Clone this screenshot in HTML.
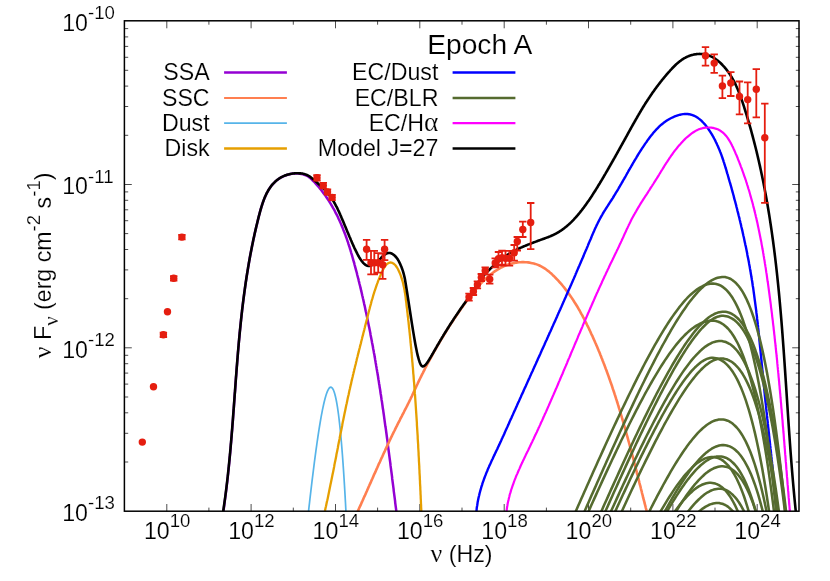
<!DOCTYPE html>
<html><head><meta charset="utf-8"><title>Epoch A SED</title>
<style>html,body{margin:0;padding:0;background:#fff;overflow:hidden}body{width:830px;height:581px;position:relative;font-family:"Liberation Sans",sans-serif}</style></head>
<body>
<svg width="830" height="581" viewBox="0 0 830 581" style="position:absolute;left:0;top:0;will-change:transform">
<defs><clipPath id="c"><rect x="124.6" y="21.1" width="674.8" height="490.1"/></clipPath></defs>
<rect width="830" height="581" fill="#fff"/>
<path d="M166.8 511.2v-7.2M166.8 21.1v7.2M208.9 511.2v-3.6M208.9 21.1v3.6M251.1 511.2v-7.2M251.1 21.1v7.2M293.3 511.2v-3.6M293.3 21.1v3.6M335.5 511.2v-7.2M335.5 21.1v7.2M377.6 511.2v-3.6M377.6 21.1v3.6M419.8 511.2v-7.2M419.8 21.1v7.2M462 511.2v-3.6M462 21.1v3.6M504.2 511.2v-7.2M504.2 21.1v7.2M546.4 511.2v-3.6M546.4 21.1v3.6M588.5 511.2v-7.2M588.5 21.1v7.2M630.7 511.2v-3.6M630.7 21.1v3.6M672.9 511.2v-7.2M672.9 21.1v7.2M715 511.2v-3.6M715 21.1v3.6M757.2 511.2v-7.2M757.2 21.1v7.2M124.6 462h3.6M799.4 462h-3.6M124.6 433.3h3.6M799.4 433.3h-3.6M124.6 412.8h3.6M799.4 412.8h-3.6M124.6 397h3.6M799.4 397h-3.6M124.6 384.1h3.6M799.4 384.1h-3.6M124.6 373.1h3.6M799.4 373.1h-3.6M124.6 363.7h3.6M799.4 363.7h-3.6M124.6 355.3h3.6M799.4 355.3h-3.6M124.6 347.8h7.2M799.4 347.8h-7.2M124.6 298.7h3.6M799.4 298.7h-3.6M124.6 269.9h3.6M799.4 269.9h-3.6M124.6 249.5h3.6M799.4 249.5h-3.6M124.6 233.6h3.6M799.4 233.6h-3.6M124.6 220.7h3.6M799.4 220.7h-3.6M124.6 209.8h3.6M799.4 209.8h-3.6M124.6 200.3h3.6M799.4 200.3h-3.6M124.6 191.9h3.6M799.4 191.9h-3.6M124.6 184.5h7.2M799.4 184.5h-7.2M124.6 135.3h3.6M799.4 135.3h-3.6M124.6 106.5h3.6M799.4 106.5h-3.6M124.6 86.1h3.6M799.4 86.1h-3.6M124.6 70.3h3.6M799.4 70.3h-3.6M124.6 57.3h3.6M799.4 57.3h-3.6M124.6 46.4h3.6M799.4 46.4h-3.6M124.6 36.9h3.6M799.4 36.9h-3.6M124.6 28.6h3.6M799.4 28.6h-3.6" stroke="#000" stroke-width="0.7" fill="none"/>
<g clip-path="url(#c)" fill="none" stroke-linejoin="round">
<path d="M221.2 525.1L221.5 523.6L221.7 522.1L222 520.6L222.2 519.1L222.4 517.5L222.7 516L222.9 514.5L223.1 513L223.4 511.5L223.6 510L223.8 508.5L224 507L224.2 505.5L224.4 503.9L224.6 502.4L224.8 500.9L225 499.4L225.2 497.9L225.4 496.4L225.6 494.9L225.8 493.4L226 491.9L226.2 490.4L226.4 488.9L226.6 487.4L226.7 485.9L226.9 484.4L227.1 482.9L227.3 481.4L227.4 479.9L227.6 478.4L227.8 476.9L227.9 475.4L228.1 473.9L228.2 472.4L228.4 470.9L228.6 469.4L228.7 467.9L228.9 466.4L229 464.9L229.2 463.4L229.3 461.9L229.5 460.4L229.6 458.9L229.7 457.4L229.9 455.9L230 454.4L230.2 452.9L230.3 451.4L230.4 449.9L230.6 448.4L230.7 446.9L230.8 445.4L230.9 443.9L231.1 442.4L231.2 441L231.3 439.5L231.4 438L231.6 436.5L231.7 435L231.8 433.5L231.9 432L232.1 430.5L232.2 429L232.3 427.5L232.4 426L232.5 424.6L232.6 423.1L232.8 421.6L232.9 420.1L233 418.6L233.1 417.1L233.2 415.6L233.3 414.1L233.4 412.7L233.5 411.2L233.6 409.7L233.8 408.2L233.9 406.7L234 405.2L234.1 403.7L234.2 402.3L234.3 400.8L234.4 399.3L234.5 397.8L234.6 396.3L234.7 394.8L234.8 393.3L235 391.9L235.1 390.4L235.2 388.9L235.3 387.4L235.4 385.9L235.5 384.4L235.6 382.9L235.7 381.5L235.8 380L235.9 378.5L236 377L236.2 375.5L236.3 374L236.4 372.6L236.5 371.1L236.6 369.6L236.7 368.1L236.8 366.6L237 365.1L237.1 363.7L237.2 362.2L237.3 360.7L237.4 359.2L237.6 357.7L237.7 356.2L237.8 354.8L237.9 353.3L238 351.8L238.2 350.3L238.3 348.8L238.4 347.3L238.6 345.9L238.7 344.4L238.8 342.9L238.9 341.4L239.1 339.9L239.2 338.4L239.4 337L239.5 335.5L239.6 334L239.8 332.5L239.9 331L240.1 329.5L240.2 328.1L240.4 326.6L240.5 325.1L240.7 323.6L240.8 322.1L241 320.6L241.1 319.1L241.3 317.7L241.5 316.2L241.6 314.7L241.8 313.2L242 311.7L242.1 310.2L242.3 308.7L242.5 307.3L242.7 305.8L242.8 304.3L243 302.8L243.2 301.3L243.4 299.8L243.6 298.3L243.8 296.8L244 295.4L244.2 293.9L244.4 292.4L244.6 290.9L244.8 289.4L245 287.9L245.2 286.4L245.4 284.9L245.6 283.4L245.8 282L246.1 280.5L246.3 279L246.5 277.5L246.7 276L247 274.5L247.2 273L247.5 271.5L247.7 270L248 268.5L248.2 267L248.5 265.5L248.7 264L249 262.6L249.2 261.1L249.5 259.6L249.8 258.1L250 256.6L250.3 255.1L250.6 253.6L250.9 252.1L251.2 250.6L251.5 249.1L251.8 247.6L252.1 246.1L252.4 244.6L252.7 243.1L253 241.6L253.3 240.1L253.6 238.6L254 237.1L254.3 235.6L254.6 234.1L254.9 232.6L255.3 231.1L255.6 229.6L256 228.1L256.3 226.6L256.7 225.1L257.1 223.6L257.4 222.1L257.8 220.5L258.2 219L258.5 217.5L258.9 216L259.3 214.5L259.7 213L260.1 211.5L260.5 210L261 208.5L261.4 207.1L261.9 205.6L262.3 204.1L262.8 202.7L263.3 201.3L263.8 199.9L264.4 198.5L265 197.1L265.6 195.7L266.2 194.4L266.8 193.1L267.5 191.8L268.2 190.6L268.9 189.4L269.7 188.2L270.5 187L271.3 185.9L272.2 184.8L273.1 183.8L274.1 182.8L275.1 181.8L276.1 180.9L277.2 180L278.3 179.2L279.4 178.4L280.7 177.7L281.9 177L283.2 176.4L284.6 175.8L286 175.3L287.5 174.8L289 174.4L290.5 174.1L292.1 173.8L293.7 173.6L295.2 173.5L296.8 173.5L298.4 173.6L299.9 173.7L301.5 174L303 174.3L304.4 174.8L305.8 175.3L307.2 176L308.5 176.8L309.7 177.6L310.8 178.6L311.9 179.7L313 180.8L314.1 181.8L315.1 183L316.1 184.1L317.1 185.2L318.1 186.3L319.1 187.5L320 188.6L321 189.8L321.9 191L322.8 192.2L323.7 193.4L324.6 194.6L325.5 195.8L326.3 197L327.1 198.2L328 199.5L328.8 200.7L329.6 202L330.3 203.2L331.1 204.5L331.9 205.8L332.6 207.1L333.3 208.4L334.1 209.7L334.8 211L335.4 212.3L336.1 213.6L336.8 214.9L337.5 216.3L338.1 217.6L338.7 219L339.4 220.3L340 221.7L340.6 223.1L341.2 224.4L341.7 225.8L342.3 227.2L342.9 228.6L343.4 230L344 231.4L344.5 232.8L345.1 234.2L345.6 235.6L346.1 237L346.6 238.4L347.1 239.8L347.6 241.3L348.1 242.7L348.5 244.1L349 245.6L349.5 247L349.9 248.5L350.4 249.9L350.8 251.3L351.2 252.8L351.7 254.3L352.1 255.7L352.5 257.2L352.9 258.6L353.3 260.1L353.7 261.5L354.2 263L354.5 264.5L354.9 265.9L355.3 267.4L355.7 268.9L356.1 270.3L356.5 271.8L356.9 273.3L357.2 274.7L357.6 276.2L358 277.7L358.4 279.1L358.7 280.6L359.1 282.1L359.4 283.5L359.8 285L360.2 286.5L360.5 287.9L360.9 289.4L361.2 290.9L361.6 292.4L361.9 293.8L362.2 295.3L362.6 296.8L362.9 298.2L363.3 299.7L363.6 301.2L363.9 302.6L364.2 304.1L364.6 305.6L364.9 307L365.2 308.5L365.5 310L365.8 311.5L366.2 312.9L366.5 314.4L366.8 315.9L367.1 317.3L367.4 318.8L367.7 320.3L368 321.7L368.3 323.2L368.6 324.7L368.9 326.2L369.2 327.6L369.5 329.1L369.8 330.6L370.1 332L370.4 333.5L370.6 335L370.9 336.5L371.2 337.9L371.5 339.4L371.8 340.9L372 342.4L372.3 343.8L372.6 345.3L372.9 346.8L373.1 348.2L373.4 349.7L373.7 351.2L373.9 352.7L374.2 354.1L374.5 355.6L374.7 357.1L375 358.6L375.2 360L375.5 361.5L375.7 363L376 364.5L376.2 365.9L376.5 367.4L376.7 368.9L377 370.4L377.2 371.8L377.5 373.3L377.7 374.8L378 376.3L378.2 377.7L378.4 379.2L378.7 380.7L378.9 382.2L379.1 383.7L379.4 385.1L379.6 386.6L379.8 388.1L380.1 389.6L380.3 391L380.5 392.5L380.7 394L381 395.5L381.2 397L381.4 398.4L381.6 399.9L381.9 401.4L382.1 402.9L382.3 404.4L382.5 405.8L382.7 407.3L382.9 408.8L383.2 410.3L383.4 411.8L383.6 413.2L383.8 414.7L384 416.2L384.2 417.7L384.4 419.2L384.6 420.6L384.8 422.1L385 423.6L385.2 425.1L385.4 426.6L385.7 428.1L385.9 429.5L386.1 431L386.3 432.5L386.5 434L386.7 435.5L386.9 437L387.1 438.5L387.3 439.9L387.5 441.4L387.7 442.9L387.8 444.4L388 445.9L388.2 447.4L388.4 448.9L388.6 450.3L388.8 451.8L389 453.3L389.2 454.8L389.4 456.3L389.6 457.8L389.8 459.3L390 460.8L390.2 462.3L390.4 463.7L390.5 465.2L390.7 466.7L390.9 468.2L391.1 469.7L391.3 471.2L391.5 472.7L391.7 474.2L391.9 475.7L392.1 477.2L392.2 478.7L392.4 480.1L392.6 481.6L392.8 483.1L393 484.6L393.2 486.1L393.4 487.6L393.6 489.1L393.7 490.6L393.9 492.1L394.1 493.6L394.3 495.1L394.5 496.6L394.7 498.1L394.9 499.6L395.1 501.1L395.2 502.6L395.4 504.1L395.6 505.6L395.8 507.1L396 508.6L396.2 510.1L396.4 511.6L396.6 513.1L396.8 514.6L396.9 516.1L397.1 517.6L397.3 519.1L397.5 520.6L397.7 522.1L397.9 523.6L398.1 525.1" stroke="#9400d3" stroke-width="2.5"/>
<path d="M351.9 523.9L352.6 522.6L353.2 521.2L353.8 519.9L354.4 518.5L355.1 517.2L355.7 515.8L356.3 514.4L356.9 513.1L357.6 511.7L358.2 510.4L358.8 509L359.4 507.6L360 506.3L360.7 504.9L361.3 503.5L361.9 502.1L362.5 500.8L363.1 499.4L363.7 498L364.3 496.7L365 495.3L365.6 493.9L366.2 492.5L366.8 491.2L367.4 489.8L368 488.4L368.6 487L369.2 485.7L369.8 484.3L370.5 482.9L371.1 481.5L371.7 480.1L372.3 478.8L372.9 477.4L373.5 476L374.1 474.6L374.7 473.3L375.4 471.9L376 470.5L376.6 469.1L377.2 467.8L377.8 466.4L378.4 465L379 463.6L379.7 462.3L380.3 460.9L380.9 459.5L381.5 458.2L382.2 456.8L382.8 455.4L383.4 454L384 452.7L384.7 451.3L385.3 449.9L385.9 448.6L386.6 447.2L387.2 445.9L387.8 444.5L388.5 443.1L389.1 441.8L389.7 440.4L390.4 439.1L391 437.7L391.7 436.4L392.3 435L393 433.7L393.6 432.3L394.3 431L395 429.6L395.6 428.3L396.3 426.9L397 425.6L397.6 424.3L398.3 422.9L399 421.6L399.7 420.3L400.3 418.9L401 417.6L401.7 416.3L402.4 414.9L403.1 413.6L403.8 412.3L404.4 411L405.1 409.6L405.8 408.3L406.5 407L407.2 405.7L407.8 404.3L408.5 403L409.2 401.7L409.8 400.3L410.5 399L411.1 397.6L411.8 396.3L412.4 394.9L413 393.5L413.7 392.2L414.3 390.8L414.9 389.5L415.6 388.1L416.2 386.7L416.8 385.3L417.5 384L418.1 382.6L418.8 381.2L419.4 379.9L420.1 378.5L420.8 377.2L421.4 375.8L422.1 374.4L422.8 373.1L423.5 371.7L424.2 370.4L424.8 369L425.5 367.7L426.2 366.4L426.9 365L427.6 363.7L428.3 362.4L429 361L429.8 359.7L430.5 358.4L431.2 357.1L431.9 355.8L432.6 354.5L433.3 353.2L434 351.9L434.8 350.6L435.5 349.3L436.2 348L437 346.7L437.7 345.4L438.4 344.2L439.2 342.9L439.9 341.6L440.7 340.3L441.4 339.1L442.2 337.8L443 336.5L443.7 335.3L444.5 334L445.3 332.7L446 331.5L446.8 330.2L447.6 329L448.4 327.7L449.2 326.4L450 325.2L450.8 323.9L451.6 322.7L452.5 321.4L453.3 320.2L454.1 318.9L454.9 317.7L455.8 316.4L456.6 315.2L457.5 313.9L458.3 312.7L459.2 311.4L460.1 310.2L460.9 308.9L461.8 307.7L462.7 306.4L463.6 305.2L464.5 303.9L465.4 302.7L466.3 301.4L467.3 300.1L468.2 298.9L469.1 297.6L470.1 296.4L471 295.2L472 293.9L473 292.7L473.9 291.5L474.9 290.3L475.9 289.1L477 287.9L478 286.7L479 285.6L480 284.4L481.1 283.3L482.2 282.2L483.2 281.1L484.3 280L485.4 279L486.5 278L487.7 276.9L488.8 276L489.9 275L491.1 274.1L492.3 273.2L493.5 272.3L494.7 271.4L495.9 270.6L497.2 269.8L498.4 269.1L499.7 268.3L501 267.6L502.3 267L503.6 266.4L504.9 265.8L506.3 265.3L507.6 264.8L509 264.3L510.4 263.9L511.8 263.5L513.3 263.2L514.7 262.9L516.2 262.6L517.6 262.4L519.1 262.3L520.6 262.2L522.1 262.1L523.6 262.1L525 262.2L526.5 262.3L528 262.4L529.5 262.6L530.9 262.9L532.4 263.2L533.8 263.5L535.2 263.9L536.6 264.4L538 264.9L539.4 265.5L540.7 266.2L542 266.9L543.3 267.6L544.6 268.4L545.9 269.3L547.1 270.2L548.3 271.1L549.5 272.1L550.6 273.1L551.8 274.1L552.9 275.2L554 276.2L555.1 277.3L556.2 278.5L557.3 279.6L558.3 280.7L559.3 281.8L560.4 283L561.4 284.2L562.3 285.3L563.3 286.5L564.3 287.7L565.2 288.9L566.1 290.1L567.1 291.3L568 292.5L568.8 293.7L569.7 294.9L570.6 296.2L571.4 297.4L572.3 298.7L573.1 299.9L573.9 301.2L574.7 302.5L575.5 303.7L576.3 305L577.1 306.3L577.9 307.6L578.6 308.9L579.4 310.2L580.1 311.5L580.8 312.8L581.5 314.1L582.3 315.4L583 316.8L583.7 318.1L584.4 319.4L585 320.8L585.7 322.1L586.4 323.4L587 324.8L587.7 326.1L588.4 327.5L589 328.8L589.6 330.2L590.3 331.5L590.9 332.9L591.5 334.3L592.2 335.6L592.8 337L593.4 338.4L594 339.7L594.6 341.1L595.2 342.5L595.8 343.8L596.4 345.2L597 346.6L597.6 348L598.2 349.4L598.7 350.7L599.3 352.1L599.9 353.5L600.4 354.9L601 356.3L601.5 357.7L602.1 359.1L602.6 360.5L603.2 361.9L603.7 363.3L604.3 364.7L604.8 366.1L605.3 367.5L605.8 368.9L606.4 370.3L606.9 371.7L607.4 373.1L607.9 374.5L608.4 375.9L608.9 377.3L609.4 378.7L609.9 380.2L610.4 381.6L610.9 383L611.4 384.4L611.9 385.8L612.4 387.3L612.8 388.7L613.3 390.1L613.8 391.5L614.3 393L614.7 394.4L615.2 395.8L615.7 397.3L616.1 398.7L616.6 400.1L617 401.5L617.5 403L617.9 404.4L618.4 405.9L618.8 407.3L619.2 408.7L619.7 410.2L620.1 411.6L620.6 413.1L621 414.5L621.4 415.9L621.8 417.4L622.3 418.8L622.7 420.3L623.1 421.7L623.5 423.2L623.9 424.6L624.4 426.1L624.8 427.5L625.2 428.9L625.6 430.4L626 431.8L626.4 433.3L626.8 434.8L627.2 436.2L627.6 437.7L628 439.1L628.4 440.6L628.8 442L629.2 443.5L629.6 444.9L630 446.4L630.4 447.8L630.8 449.3L631.2 450.7L631.5 452.2L631.9 453.7L632.3 455.1L632.7 456.6L633.1 458L633.5 459.5L633.8 460.9L634.2 462.4L634.6 463.9L635 465.3L635.3 466.8L635.7 468.2L636.1 469.7L636.5 471.1L636.8 472.6L637.2 474.1L637.6 475.5L638 477L638.3 478.4L638.7 479.9L639.1 481.3L639.4 482.8L639.8 484.3L640.2 485.7L640.6 487.2L640.9 488.6L641.3 490.1L641.7 491.5L642 493L642.4 494.5L642.8 495.9L643.1 497.4L643.5 498.8L643.9 500.3L644.3 501.7L644.6 503.2L645 504.6L645.4 506.1L645.7 507.5L646.1 509L646.5 510.4L646.8 511.9L647.2 513.3L647.6 514.8L648 516.2L648.3 517.7L648.7 519.1L649.1 520.6L649.5 522L649.8 523.5L650.2 524.9" stroke="#ff7f50" stroke-width="2.6"/>
<path d="M306.5 529.8L307 525.2L307.5 520.7L308 516.1L308.5 511.6L309 507.2L309.5 502.8L310 498.4L310.5 494.1L311 489.8L311.5 485.6L312 481.4L312.5 477.3L313 473.3L313.5 469.3L314 465.3L314.5 461.4L315 457.6L315.5 453.9L316 450.2L316.5 446.6L317 443L317.5 439.6L318 436.2L318.5 432.9L319 429.7L319.5 426.5L320 423.5L320.5 420.5L321 417.7L321.5 414.9L322 412.3L322.5 409.7L323 407.3L323.5 405L324 402.8L324.5 400.7L325 398.8L325.5 397L326 395.3L326.5 393.8L327 392.4L327.5 391.2L328 390.1L328.5 389.2L329 388.4L329.5 387.8L330 387.4L330.5 387.2L331 387.2L331.5 387.4L332 387.8L332.5 388.4L333 389.2L333.5 390.2L334 391.5L334.5 393L335 394.7L335.5 396.7L336 399L336.5 401.5L337 404.3L337.5 407.4L338 410.8L338.5 414.5L339 418.5L339.5 422.8L340 427.5L340.5 432.5L341 437.8L341.5 443.5L342 449.6L342.5 456L343 462.9L343.5 470.1L344 477.8L344.5 485.9L345 494.4L345.5 503.3L346 512.8L346.5 522.7" stroke="#56b4e9" stroke-width="1.7"/>
<path d="M321.9 524.1L322.2 522.6L322.6 521.1L322.9 519.6L323.3 518.1L323.6 516.6L324 515.1L324.3 513.7L324.6 512.2L325 510.7L325.3 509.2L325.6 507.7L326 506.2L326.3 504.8L326.6 503.3L326.9 501.8L327.3 500.3L327.6 498.9L327.9 497.4L328.2 495.9L328.5 494.4L328.8 493L329.1 491.5L329.4 490L329.7 488.5L330 487.1L330.3 485.6L330.6 484.1L330.9 482.7L331.2 481.2L331.5 479.7L331.8 478.2L332.1 476.8L332.4 475.3L332.7 473.8L333 472.4L333.3 470.9L333.6 469.4L333.9 468L334.2 466.5L334.4 465L334.7 463.6L335 462.1L335.3 460.7L335.6 459.2L335.9 457.7L336.2 456.3L336.4 454.8L336.7 453.3L337 451.9L337.3 450.4L337.6 448.9L337.9 447.5L338.1 446L338.4 444.6L338.7 443.1L339 441.6L339.3 440.2L339.6 438.7L339.8 437.2L340.1 435.8L340.4 434.3L340.7 432.8L341 431.4L341.3 429.9L341.6 428.5L341.9 427L342.2 425.5L342.4 424.1L342.7 422.6L343 421.1L343.3 419.7L343.6 418.2L343.9 416.7L344.2 415.3L344.5 413.8L344.8 412.3L345.1 410.9L345.4 409.4L345.7 407.9L346 406.5L346.3 405L346.7 403.5L347 402.1L347.3 400.6L347.6 399.1L347.9 397.6L348.2 396.2L348.6 394.7L348.9 393.2L349.2 391.8L349.5 390.3L349.9 388.8L350.2 387.3L350.5 385.9L350.9 384.4L351.2 382.9L351.5 381.4L351.9 379.9L352.2 378.5L352.6 377L352.9 375.5L353.3 374L353.6 372.6L354 371.1L354.3 369.6L354.7 368.1L355 366.7L355.4 365.2L355.8 363.7L356.1 362.2L356.5 360.8L356.8 359.3L357.2 357.8L357.6 356.3L357.9 354.9L358.3 353.4L358.7 351.9L359 350.5L359.4 349L359.8 347.5L360.1 346.1L360.5 344.6L360.9 343.2L361.2 341.7L361.6 340.3L362 338.8L362.3 337.3L362.7 335.9L363.1 334.4L363.4 333L363.8 331.6L364.2 330.1L364.5 328.7L364.9 327.2L365.2 325.8L365.6 324.4L366 322.9L366.3 321.5L366.7 320.1L367.1 318.7L367.4 317.3L367.8 315.8L368.1 314.4L368.5 313L368.8 311.6L369.2 310.2L369.6 308.8L369.9 307.4L370.3 306L370.7 304.6L371.1 303.2L371.4 301.7L371.8 300.3L372.3 298.9L372.7 297.5L373.1 296L373.5 294.6L374 293.2L374.4 291.7L374.9 290.3L375.4 288.8L375.9 287.4L376.4 285.9L376.9 284.4L377.5 282.9L378 281.4L378.6 279.9L379.2 278.4L379.8 276.9L380.5 275.3L381.1 273.8L381.8 272.2L382.5 270.7L383.3 269.3L384 267.9L384.8 266.6L385.6 265.5L386.5 264.5L387.4 263.7L388.3 263.1L389.3 262.7L390.2 262.5L391.3 262.6L392.3 262.9L393.4 263.5L394.4 264.3L395.4 265.3L396.3 266.5L397.2 267.8L398 269.2L398.7 270.7L399.4 272.2L400.1 273.8L400.7 275.4L401.2 277L401.8 278.6L402.2 280.1L402.7 281.7L403.1 283.2L403.4 284.7L403.7 286.2L404.1 287.7L404.3 289.1L404.6 290.6L404.8 292.1L405.1 293.5L405.3 295L405.5 296.4L405.7 297.8L405.8 299.3L406 300.7L406.2 302.2L406.4 303.6L406.5 305.1L406.7 306.5L406.9 308L407.1 309.4L407.2 310.9L407.4 312.4L407.6 313.8L407.7 315.3L407.9 316.8L408.1 318.2L408.2 319.7L408.4 321.2L408.6 322.7L408.7 324.1L408.9 325.6L409 327.1L409.2 328.6L409.4 330.1L409.5 331.6L409.7 333.1L409.8 334.5L410 336L410.1 337.5L410.3 339L410.4 340.5L410.5 342L410.7 343.5L410.8 345L411 346.5L411.1 348L411.3 349.5L411.4 351L411.5 352.5L411.7 354L411.8 355.5L411.9 357L412.1 358.6L412.2 360.1L412.3 361.6L412.5 363.1L412.6 364.6L412.7 366.1L412.9 367.6L413 369.1L413.1 370.6L413.2 372.1L413.3 373.6L413.5 375.1L413.6 376.6L413.7 378.1L413.8 379.6L413.9 381.2L414.1 382.7L414.2 384.2L414.3 385.7L414.4 387.2L414.5 388.7L414.6 390.2L414.7 391.7L414.8 393.2L415 394.7L415.1 396.2L415.2 397.7L415.3 399.2L415.4 400.7L415.5 402.2L415.6 403.7L415.7 405.2L415.8 406.7L415.9 408.2L416 409.7L416.1 411.2L416.2 412.7L416.3 414.2L416.4 415.6L416.5 417.1L416.6 418.6L416.7 420.1L416.8 421.6L416.9 423.1L416.9 424.6L417 426.1L417.1 427.6L417.2 429.1L417.3 430.6L417.4 432.1L417.5 433.6L417.6 435.1L417.7 436.6L417.7 438.1L417.8 439.6L417.9 441.1L418 442.6L418.1 444L418.2 445.5L418.2 447L418.3 448.5L418.4 450L418.5 451.5L418.6 453L418.6 454.5L418.7 456L418.8 457.5L418.9 459L418.9 460.5L419 462L419.1 463.5L419.2 465L419.3 466.5L419.3 468L419.4 469.5L419.5 471L419.5 472.4L419.6 473.9L419.7 475.4L419.8 476.9L419.8 478.4L419.9 479.9L420 481.4L420 482.9L420.1 484.4L420.2 485.9L420.3 487.4L420.3 488.9L420.4 490.4L420.5 491.9L420.5 493.4L420.6 494.9L420.7 496.4L420.7 497.9L420.8 499.4L420.9 500.9L420.9 502.4L421 503.9L421.1 505.4L421.1 506.9L421.2 508.4L421.3 510L421.3 511.5L421.4 513L421.5 514.5L421.5 516L421.6 517.5L421.6 519L421.7 520.5L421.8 522L421.8 523.5L421.9 525" stroke="#e69f00" stroke-width="2.3"/>
<path d="M475.9 525L475.9 523.5L475.8 522L475.9 520.5L475.9 519L476 517.5L476 516L476.1 514.5L476.3 513L476.4 511.5L476.6 510L476.7 508.5L476.9 507L477.2 505.5L477.4 504.1L477.6 502.6L477.9 501.1L478.2 499.6L478.5 498.1L478.8 496.7L479.2 495.2L479.5 493.8L479.9 492.3L480.3 490.8L480.7 489.4L481.1 488L481.5 486.5L482 485.1L482.4 483.6L482.9 482.2L483.4 480.8L483.9 479.4L484.4 478L484.9 476.6L485.5 475.2L486 473.8L486.6 472.4L487.2 471L487.7 469.6L488.3 468.2L488.9 466.9L489.5 465.5L490.2 464.1L490.8 462.8L491.4 461.4L492 460L492.7 458.7L493.3 457.3L493.9 456L494.6 454.6L495.2 453.2L495.9 451.9L496.5 450.5L497.2 449.2L497.8 447.8L498.4 446.5L499.1 445.1L499.7 443.7L500.3 442.4L501 441L501.6 439.6L502.2 438.3L502.8 436.9L503.5 435.5L504.1 434.2L504.7 432.8L505.3 431.4L505.9 430L506.5 428.7L507.2 427.3L507.8 425.9L508.4 424.6L509 423.2L509.6 421.8L510.2 420.4L510.8 419.1L511.5 417.7L512.1 416.3L512.7 415L513.3 413.6L513.9 412.2L514.5 410.9L515.2 409.5L515.8 408.1L516.4 406.7L517 405.4L517.6 404L518.2 402.6L518.9 401.3L519.5 399.9L520.1 398.5L520.7 397.2L521.3 395.8L521.9 394.4L522.6 393.1L523.2 391.7L523.8 390.3L524.4 388.9L525 387.6L525.7 386.2L526.3 384.8L526.9 383.5L527.5 382.1L528.1 380.7L528.7 379.4L529.4 378L530 376.6L530.6 375.3L531.2 373.9L531.8 372.5L532.5 371.2L533.1 369.8L533.7 368.4L534.3 367.1L534.9 365.7L535.6 364.3L536.2 362.9L536.8 361.6L537.4 360.2L538 358.8L538.6 357.5L539.3 356.1L539.9 354.7L540.5 353.4L541.1 352L541.7 350.6L542.3 349.3L543 347.9L543.6 346.5L544.2 345.2L544.8 343.8L545.4 342.4L546 341L546.7 339.7L547.3 338.3L547.9 336.9L548.5 335.6L549.1 334.2L549.7 332.8L550.4 331.5L551 330.1L551.6 328.7L552.2 327.3L552.8 326L553.4 324.6L554 323.2L554.7 321.9L555.3 320.5L555.9 319.1L556.5 317.7L557.1 316.4L557.7 315L558.3 313.6L558.9 312.3L559.5 310.9L560.2 309.5L560.8 308.1L561.4 306.8L562 305.4L562.6 304L563.2 302.6L563.8 301.3L564.4 299.9L565 298.5L565.6 297.2L566.2 295.8L566.8 294.4L567.4 293L568 291.7L568.6 290.3L569.2 288.9L569.9 287.5L570.5 286.1L571.1 284.8L571.7 283.4L572.3 282L572.9 280.6L573.5 279.3L574.1 277.9L574.7 276.5L575.3 275.1L575.8 273.7L576.4 272.4L577 271L577.6 269.6L578.2 268.2L578.8 266.8L579.4 265.5L580 264.1L580.6 262.7L581.2 261.3L581.8 259.9L582.4 258.6L583 257.2L583.6 255.8L584.1 254.4L584.7 253L585.3 251.6L585.9 250.2L586.5 248.9L587.1 247.5L587.7 246.1L588.2 244.7L588.8 243.3L589.4 241.9L590 240.5L590.6 239.2L591.2 237.8L591.7 236.4L592.3 235L592.9 233.6L593.5 232.2L594.1 230.9L594.7 229.5L595.3 228.1L596 226.8L596.6 225.4L597.3 224L597.9 222.7L598.6 221.4L599.3 220L600 218.7L600.7 217.4L601.4 216.1L602.2 214.8L602.9 213.5L603.7 212.2L604.5 210.9L605.3 209.7L606.1 208.4L606.9 207.1L607.7 205.9L608.5 204.6L609.3 203.3L610.1 202.1L611 200.8L611.8 199.5L612.6 198.3L613.4 197L614.2 195.7L615 194.4L615.7 193.2L616.5 191.9L617.3 190.6L618.1 189.3L618.8 188L619.6 186.7L620.3 185.4L621.1 184.1L621.8 182.8L622.6 181.5L623.3 180.2L624.1 178.9L624.8 177.6L625.6 176.3L626.3 175L627 173.7L627.8 172.3L628.5 171L629.3 169.7L630 168.4L630.8 167.1L631.5 165.8L632.3 164.5L633 163.2L633.8 161.9L634.5 160.6L635.3 159.3L636.1 158.1L636.8 156.8L637.6 155.5L638.4 154.2L639.2 152.9L640 151.7L640.8 150.4L641.6 149.1L642.4 147.9L643.3 146.6L644.1 145.4L644.9 144.1L645.8 142.9L646.7 141.7L647.5 140.4L648.4 139.2L649.3 138L650.2 136.8L651.1 135.6L652.1 134.5L653 133.3L654 132.1L655 131L656 129.9L657 128.8L658 127.8L659.1 126.7L660.2 125.7L661.3 124.7L662.5 123.8L663.6 122.8L664.8 122L666.1 121.1L667.3 120.3L668.6 119.5L669.9 118.7L671.3 118L672.7 117.4L674.1 116.7L675.5 116.1L677 115.6L678.5 115.1L680.1 114.7L681.6 114.4L683.1 114.1L684.7 114L686.2 113.9L687.6 114L689 114.2L690.4 114.5L691.8 114.8L693.1 115.3L694.4 115.9L695.7 116.5L696.9 117.3L698.1 118.1L699.2 118.9L700.4 119.9L701.5 120.8L702.5 121.9L703.6 123L704.6 124.1L705.6 125.3L706.5 126.5L707.5 127.8L708.4 129L709.2 130.3L710.1 131.6L710.9 132.9L711.7 134.2L712.5 135.5L713.3 136.9L714 138.2L714.7 139.5L715.4 140.9L716 142.2L716.7 143.6L717.3 145L717.9 146.3L718.5 147.7L719.1 149.1L719.7 150.5L720.2 151.9L720.8 153.3L721.3 154.7L721.8 156.1L722.3 157.5L722.8 159L723.3 160.4L723.7 161.8L724.2 163.2L724.6 164.7L725.1 166.1L725.5 167.5L726 169L726.4 170.4L726.8 171.9L727.2 173.3L727.7 174.7L728.1 176.2L728.5 177.6L728.9 179.1L729.3 180.5L729.7 181.9L730.2 183.4L730.6 184.8L731 186.3L731.4 187.7L731.8 189.2L732.2 190.6L732.6 192.1L733 193.5L733.4 195L733.8 196.4L734.1 197.9L734.5 199.3L734.9 200.8L735.3 202.2L735.7 203.7L736.1 205.1L736.4 206.6L736.8 208L737.2 209.5L737.5 211L737.9 212.4L738.3 213.9L738.6 215.3L739 216.8L739.4 218.2L739.7 219.7L740.1 221.2L740.4 222.6L740.8 224.1L741.1 225.5L741.4 227L741.8 228.5L742.1 229.9L742.5 231.4L742.8 232.9L743.1 234.3L743.4 235.8L743.8 237.3L744.1 238.7L744.4 240.2L744.7 241.7L745 243.1L745.3 244.6L745.7 246.1L746 247.5L746.3 249L746.6 250.5L746.9 252L747.2 253.4L747.4 254.9L747.7 256.4L748 257.8L748.3 259.3L748.6 260.8L748.9 262.3L749.1 263.7L749.4 265.2L749.7 266.7L749.9 268.2L750.2 269.7L750.4 271.1L750.7 272.6L750.9 274.1L751.2 275.6L751.4 277.1L751.7 278.5L751.9 280L752.2 281.5L752.4 283L752.6 284.5L752.8 286L753.1 287.4L753.3 288.9L753.5 290.4L753.7 291.9L753.9 293.4L754.1 294.9L754.3 296.4L754.5 297.8L754.7 299.3L754.9 300.8L755.1 302.3L755.3 303.8L755.5 305.3L755.7 306.8L755.9 308.3L756.1 309.8L756.3 311.3L756.4 312.7L756.6 314.2L756.8 315.7L757 317.2L757.1 318.7L757.3 320.2L757.5 321.7L757.7 323.2L757.8 324.7L758 326.2L758.1 327.7L758.3 329.2L758.5 330.7L758.6 332.2L758.8 333.7L758.9 335.1L759.1 336.6L759.2 338.1L759.4 339.6L759.5 341.1L759.7 342.6L759.8 344.1L760 345.6L760.1 347.1L760.3 348.6L760.4 350.1L760.6 351.6L760.7 353.1L760.9 354.6L761 356.1L761.2 357.6L761.3 359.1L761.5 360.6L761.6 362.1L761.7 363.6L761.9 365.1L762 366.6L762.2 368.1L762.3 369.6L762.5 371.1L762.6 372.6L762.7 374.1L762.9 375.6L763 377L763.2 378.5L763.3 380L763.5 381.5L763.6 383L763.8 384.5L763.9 386L764.1 387.5L764.2 389L764.4 390.5L764.5 392L764.7 393.5L764.8 395L765 396.5L765.1 398L765.3 399.5L765.4 401L765.6 402.5L765.8 404L765.9 405.4L766.1 406.9L766.2 408.4L766.4 409.9L766.5 411.4L766.7 412.9L766.9 414.4L767 415.9L767.2 417.4L767.3 418.9L767.5 420.4L767.7 421.9L767.8 423.4L768 424.9L768.1 426.3L768.3 427.8L768.5 429.3L768.6 430.8L768.8 432.3L769 433.8L769.1 435.3L769.3 436.8L769.4 438.3L769.6 439.8L769.8 441.3L769.9 442.8L770.1 444.3L770.2 445.7L770.4 447.2L770.5 448.7L770.7 450.2L770.9 451.7L771 453.2L771.2 454.7L771.3 456.2L771.5 457.7L771.6 459.2L771.8 460.7L772 462.2L772.1 463.7L772.3 465.2L772.4 466.6L772.6 468.1L772.7 469.6L772.9 471.1L773 472.6L773.2 474.1L773.3 475.6L773.5 477.1L773.6 478.6L773.7 480.1L773.9 481.6L774 483.1L774.2 484.6L774.3 486.1L774.5 487.6L774.6 489.1L774.7 490.6L774.9 492L775 493.5L775.1 495L775.3 496.5L775.4 498L775.5 499.5L775.7 501L775.8 502.5L775.9 504L776.1 505.5L776.2 507L776.3 508.5L776.4 510L776.5 511.5L776.7 513L776.8 514.5L776.9 516L777 517.5L777.1 519L777.2 520.5L777.3 522L777.5 523.5L777.6 525" stroke="#0000ff" stroke-width="2.4"/>
<path d="M576.6 529.6L578.1 526.1L579.6 522.7L581.1 519.3L582.6 515.8L584.1 512.4L585.6 509L587.1 505.6L588.6 502.2L590.1 498.8L591.6 495.3L593.1 491.9L594.6 488.6L596.1 485.2L597.6 481.8L599.1 478.4L600.6 475L602.1 471.7L603.6 468.3L605.1 465L606.6 461.6L608.1 458.3L609.6 454.9L611.1 451.6L612.6 448.3L614.1 445L615.6 441.7L617.1 438.4L618.6 435.1L620.1 431.8L621.6 428.6L623.1 425.3L624.6 422.1L626.1 418.9L627.6 415.6L629.1 412.4L630.6 409.2L632.1 406.1L633.6 402.9L635.1 399.8L636.6 396.6L638.1 393.5L639.6 390.4L641.1 387.3L642.6 384.2L644.1 381.2L645.6 378.1L647.1 375.1L648.6 372.1L650.1 369.2L651.6 366.2L653.1 363.3L654.6 360.4L656.1 357.5L657.6 354.6L659.1 351.8L660.6 349L662.1 346.2L663.6 343.5L665.1 340.8L666.6 338.1L668.1 335.4L669.6 332.8L671.1 330.2L672.6 327.7L674.1 325.2L675.6 322.7L677.1 320.3L678.6 317.9L680.1 315.6L681.6 313.3L683.1 311L684.6 308.9L686.1 306.7L687.6 304.6L689.1 302.6L690.6 300.6L692.1 298.7L693.6 296.9L695.1 295.1L696.6 293.4L698.1 291.7L699.6 290.1L701.1 288.6L702.6 287.2L704.1 285.8L705.6 284.6L707.1 283.4L708.6 282.3L710.1 281.3L711.6 280.4L713.1 279.6L714.6 278.9L716.1 278.3L717.6 277.8L719.1 277.4L720.6 277.2L722.1 277L723.6 277L725.1 277.1L726.6 277.4L728.1 277.9L729.6 278.5L731.1 279.2L732.6 280.2L734.1 281.4L735.6 282.7L737.1 284.3L738.6 286L740.1 288L741.6 290.2L743.1 292.7L744.6 295.4L746.1 298.3L747.6 301.6L749.1 305.1L750.6 308.9L752.1 313L753.6 317.4L755.1 322.1L756.6 327.2L758.1 332.6L759.6 338.4L761.1 344.6L762.6 351.1L764.1 358.1L765.6 365.5L767.1 373.3L768.6 381.7L770.1 390.4L771.6 399.7L773.1 409.5L774.6 419.9L776.1 430.8L777.6 442.3L779.1 454.4L780.6 467.1L782.1 480.5L783.6 494.6L785.1 509.4L786.6 524.9" stroke="#556b2f" stroke-width="2.55"/>
<path d="M567.8 529.6L569.3 526.1L570.8 522.7L572.3 519.3L573.8 515.8L575.3 512.4L576.8 509L578.3 505.6L579.8 502.2L581.3 498.8L582.8 495.4L584.3 492L585.8 488.7L587.3 485.3L588.8 481.9L590.3 478.5L591.8 475.2L593.3 471.8L594.8 468.5L596.3 465.2L597.8 461.8L599.3 458.5L600.8 455.2L602.3 451.9L603.8 448.6L605.3 445.3L606.8 442L608.3 438.8L609.8 435.5L611.3 432.2L612.8 429L614.3 425.8L615.8 422.6L617.3 419.4L618.8 416.2L620.3 413L621.8 409.8L623.3 406.7L624.8 403.6L626.3 400.5L627.8 397.4L629.3 394.3L630.8 391.2L632.3 388.2L633.8 385.1L635.3 382.1L636.8 379.1L638.3 376.2L639.8 373.2L641.3 370.3L642.8 367.4L644.3 364.5L645.8 361.7L647.3 358.9L648.8 356.1L650.3 353.3L651.8 350.6L653.3 347.9L654.8 345.2L656.3 342.6L657.8 340L659.3 337.4L660.8 334.9L662.3 332.4L663.8 329.9L665.3 327.5L666.8 325.1L668.3 322.8L669.8 320.5L671.3 318.3L672.8 316.1L674.3 314L675.8 311.9L677.3 309.9L678.8 307.9L680.3 306L681.8 304.2L683.3 302.4L684.8 300.7L686.3 299L687.8 297.4L689.3 295.9L690.8 294.5L692.3 293.2L693.8 291.9L695.3 290.7L696.8 289.6L698.3 288.5L699.8 287.6L701.3 286.8L702.8 286L704.3 285.4L705.8 284.8L707.3 284.3L708.8 284L710.3 283.8L711.8 283.6L713.3 283.6L714.8 283.7L716.3 284L717.8 284.4L719.3 285L720.8 285.7L722.3 286.6L723.8 287.7L725.3 289L726.8 290.4L728.3 292.1L729.8 293.9L731.3 296L732.8 298.3L734.3 300.8L735.8 303.6L737.3 306.6L738.8 309.9L740.3 313.4L741.8 317.2L743.3 321.3L744.8 325.7L746.3 330.4L747.8 335.5L749.3 340.8L750.8 346.6L752.3 352.6L753.8 359.1L755.3 366L756.8 373.2L758.3 380.9L759.8 389L761.3 397.6L762.8 406.6L764.3 416.1L765.8 426.2L767.3 436.8L768.8 447.9L770.3 459.6L771.8 471.9L773.3 484.8L774.8 498.3L776.3 512.5L777.8 527.4" stroke="#556b2f" stroke-width="2.55"/>
<path d="M593.4 529.3L594.9 525.9L596.4 522.5L597.9 519.1L599.4 515.8L600.9 512.4L602.4 509L603.9 505.6L605.4 502.3L606.9 498.9L608.4 495.6L609.9 492.2L611.4 488.9L612.9 485.6L614.4 482.3L615.9 479L617.4 475.7L618.9 472.4L620.4 469.1L621.9 465.8L623.4 462.5L624.9 459.3L626.4 456L627.9 452.8L629.4 449.6L630.9 446.4L632.4 443.2L633.9 440L635.4 436.8L636.9 433.7L638.4 430.5L639.9 427.4L641.4 424.3L642.9 421.2L644.4 418.1L645.9 415.1L647.4 412.1L648.9 409L650.4 406L651.9 403.1L653.4 400.1L654.9 397.2L656.4 394.2L657.9 391.4L659.4 388.5L660.9 385.7L662.4 382.9L663.9 380.1L665.4 377.3L666.9 374.6L668.4 371.9L669.9 369.3L671.4 366.6L672.9 364L674.4 361.5L675.9 359L677.4 356.5L678.9 354.1L680.4 351.7L681.9 349.4L683.4 347.1L684.9 344.8L686.4 342.6L687.9 340.5L689.4 338.4L690.9 336.4L692.4 334.4L693.9 332.5L695.4 330.6L696.9 328.9L698.4 327.2L699.9 325.5L701.4 324L702.9 322.5L704.4 321.1L705.9 319.7L707.4 318.5L708.9 317.3L710.4 316.3L711.9 315.3L713.4 314.5L714.9 313.7L716.4 313.1L717.9 312.6L719.4 312.2L720.9 311.9L722.4 311.7L723.9 311.7L725.4 311.8L726.9 312.1L728.4 312.4L729.9 313L731.4 313.7L732.9 314.5L734.4 315.5L735.9 316.7L737.4 318L738.9 319.5L740.4 321.2L741.9 323.1L743.4 325.2L744.9 327.5L746.4 330.1L747.9 332.8L749.4 335.8L750.9 339.1L752.4 342.5L753.9 346.3L755.4 350.3L756.9 354.6L758.4 359.2L759.9 364L761.4 369.2L762.9 374.8L764.4 380.6L765.9 386.8L767.4 393.4L768.9 400.3L770.4 407.6L771.9 415.4L773.4 423.5L774.9 432.1L776.4 441.1L777.9 450.6L779.4 460.6L780.9 471.1L782.4 482.1L783.9 493.6L785.4 505.7L786.9 518.4L788.4 531.7" stroke="#556b2f" stroke-width="2.55"/>
<path d="M597.2 529.9L598.7 526.5L600.2 523.1L601.7 519.7L603.2 516.4L604.7 513L606.2 509.6L607.7 506.2L609.2 502.9L610.7 499.5L612.2 496.2L613.7 492.8L615.2 489.5L616.7 486.2L618.2 482.9L619.7 479.5L621.2 476.2L622.7 472.9L624.2 469.7L625.7 466.4L627.2 463.1L628.7 459.9L630.2 456.6L631.7 453.4L633.2 450.2L634.7 447L636.2 443.8L637.7 440.6L639.2 437.4L640.7 434.2L642.2 431.1L643.7 428L645.2 424.9L646.7 421.8L648.2 418.7L649.7 415.6L651.2 412.6L652.7 409.6L654.2 406.5L655.7 403.6L657.2 400.6L658.7 397.7L660.2 394.7L661.7 391.9L663.2 389L664.7 386.1L666.2 383.3L667.7 380.5L669.2 377.8L670.7 375.1L672.2 372.4L673.7 369.7L675.2 367.1L676.7 364.5L678.2 362L679.7 359.5L681.2 357L682.7 354.6L684.2 352.2L685.7 349.9L687.2 347.6L688.7 345.3L690.2 343.2L691.7 341.1L693.2 339L694.7 337L696.2 335.1L697.7 333.2L699.2 331.4L700.7 329.7L702.2 328L703.7 326.5L705.2 325L706.7 323.6L708.2 322.3L709.7 321.1L711.2 320L712.7 319.1L714.2 318.2L715.7 317.5L717.2 316.8L718.7 316.4L720.2 316L721.7 315.8L723.2 315.8L724.7 315.9L726.2 316.2L727.7 316.5L729.2 317.1L730.7 317.8L732.2 318.6L733.7 319.6L735.2 320.8L736.7 322.1L738.2 323.6L739.7 325.3L741.2 327.2L742.7 329.3L744.2 331.6L745.7 334.2L747.2 336.9L748.7 339.9L750.2 343.2L751.7 346.6L753.2 350.4L754.7 354.4L756.2 358.7L757.7 363.3L759.2 368.1L760.7 373.3L762.2 378.9L763.7 384.7L765.2 390.9L766.7 397.5L768.2 404.4L769.7 411.7L771.2 419.5L772.7 427.6L774.2 436.2L775.7 445.2L777.2 454.7L778.7 464.7L780.2 475.2L781.7 486.2L783.2 497.7L784.7 509.8L786.2 522.5" stroke="#556b2f" stroke-width="2.55"/>
<path d="M579.4 531.9L580.9 528.5L582.4 525.2L583.9 521.8L585.4 518.4L586.9 515.1L588.4 511.7L589.9 508.4L591.4 505L592.9 501.7L594.4 498.4L595.9 495.1L597.4 491.8L598.9 488.5L600.4 485.2L601.9 481.9L603.4 478.6L604.9 475.4L606.4 472.1L607.9 468.9L609.4 465.7L610.9 462.5L612.4 459.3L613.9 456.1L615.4 452.9L616.9 449.7L618.4 446.6L619.9 443.5L621.4 440.3L622.9 437.3L624.4 434.2L625.9 431.1L627.4 428.1L628.9 425L630.4 422L631.9 419L633.4 416.1L634.9 413.1L636.4 410.2L637.9 407.3L639.4 404.4L640.9 401.6L642.4 398.8L643.9 396L645.4 393.2L646.9 390.5L648.4 387.8L649.9 385.1L651.4 382.5L652.9 379.9L654.4 377.3L655.9 374.8L657.4 372.3L658.9 369.8L660.4 367.4L661.9 365L663.4 362.7L664.9 360.4L666.4 358.2L667.9 356L669.4 353.8L670.9 351.7L672.4 349.7L673.9 347.7L675.4 345.8L676.9 343.9L678.4 342.1L679.9 340.4L681.4 338.7L682.9 337.1L684.4 335.5L685.9 334L687.4 332.6L688.9 331.3L690.4 330L691.9 328.8L693.4 327.7L694.9 326.6L696.4 325.7L697.9 324.8L699.4 324L700.9 323.3L702.4 322.7L703.9 322.1L705.4 321.7L706.9 321.3L708.4 321L709.9 320.8L711.4 320.7L712.9 320.7L714.4 320.8L715.9 321.1L717.4 321.4L718.9 322L720.4 322.7L721.9 323.5L723.4 324.5L724.9 325.7L726.4 327L727.9 328.5L729.4 330.2L730.9 332.1L732.4 334.2L733.9 336.5L735.4 339.1L736.9 341.8L738.4 344.8L739.9 348.1L741.4 351.5L742.9 355.3L744.4 359.3L745.9 363.6L747.4 368.2L748.9 373L750.4 378.2L751.9 383.8L753.4 389.6L754.9 395.8L756.4 402.4L757.9 409.3L759.4 416.6L760.9 424.4L762.4 432.5L763.9 441.1L765.4 450.1L766.9 459.6L768.4 469.6L769.9 480.1L771.4 491.1L772.9 502.6L774.4 514.7L775.9 527.4" stroke="#556b2f" stroke-width="2.55"/>
<path d="M601.9 531.6L603.4 528.2L604.9 524.9L606.4 521.5L607.9 518.2L609.4 514.9L610.9 511.6L612.4 508.3L613.9 505L615.4 501.7L616.9 498.4L618.4 495.1L619.9 491.8L621.4 488.6L622.9 485.3L624.4 482.1L625.9 478.9L627.4 475.7L628.9 472.5L630.4 469.3L631.9 466.1L633.4 463L634.9 459.8L636.4 456.7L637.9 453.6L639.4 450.5L640.9 447.4L642.4 444.4L643.9 441.4L645.4 438.3L646.9 435.3L648.4 432.4L649.9 429.4L651.4 426.5L652.9 423.5L654.4 420.7L655.9 417.8L657.4 415L658.9 412.2L660.4 409.4L661.9 406.6L663.4 403.9L664.9 401.2L666.4 398.6L667.9 395.9L669.4 393.3L670.9 390.8L672.4 388.3L673.9 385.8L675.4 383.4L676.9 381L678.4 378.7L679.9 376.4L681.4 374.1L682.9 371.9L684.4 369.8L685.9 367.7L687.4 365.7L688.9 363.7L690.4 361.8L691.9 359.9L693.4 358.2L694.9 356.5L696.4 354.8L697.9 353.3L699.4 351.8L700.9 350.4L702.4 349L703.9 347.8L705.4 346.6L706.9 345.6L708.4 344.6L709.9 343.8L711.4 343L712.9 342.4L714.4 341.9L715.9 341.5L717.4 341.2L718.9 341L720.4 341L721.9 341.1L723.4 341.4L724.9 341.7L726.4 342.3L727.9 343L729.4 343.8L730.9 344.8L732.4 346L733.9 347.3L735.4 348.8L736.9 350.5L738.4 352.4L739.9 354.5L741.4 356.8L742.9 359.4L744.4 362.1L745.9 365.1L747.4 368.4L748.9 371.8L750.4 375.6L751.9 379.6L753.4 383.9L754.9 388.5L756.4 393.3L757.9 398.5L759.4 404.1L760.9 409.9L762.4 416.1L763.9 422.7L765.4 429.6L766.9 436.9L768.4 444.7L769.9 452.8L771.4 461.4L772.9 470.4L774.4 479.9L775.9 489.9L777.4 500.4L778.9 511.4L780.4 522.9" stroke="#556b2f" stroke-width="2.55"/>
<path d="M613.8 529L615.3 525.7L616.8 522.4L618.3 519.1L619.8 515.8L621.3 512.5L622.8 509.2L624.3 506L625.8 502.7L627.3 499.5L628.8 496.2L630.3 493L631.8 489.8L633.3 486.6L634.8 483.5L636.3 480.3L637.8 477.2L639.3 474L640.8 470.9L642.3 467.8L643.8 464.7L645.3 461.6L646.8 458.6L648.3 455.6L649.8 452.6L651.3 449.6L652.8 446.6L654.3 443.6L655.8 440.7L657.3 437.8L658.8 434.9L660.3 432.1L661.8 429.3L663.3 426.5L664.8 423.7L666.3 421L667.8 418.3L669.3 415.6L670.8 413L672.3 410.3L673.8 407.8L675.3 405.3L676.8 402.8L678.3 400.3L679.8 397.9L681.3 395.6L682.8 393.2L684.3 391L685.8 388.8L687.3 386.6L688.8 384.5L690.3 382.5L691.8 380.5L693.3 378.6L694.8 376.7L696.3 374.9L697.8 373.2L699.3 371.6L700.8 370L702.3 368.5L703.8 367.1L705.3 365.8L706.8 364.6L708.3 363.5L709.8 362.4L711.3 361.5L712.8 360.7L714.3 360L715.8 359.5L717.3 359L718.8 358.7L720.3 358.5L721.8 358.5L723.3 358.6L724.8 358.9L726.3 359.2L727.8 359.8L729.3 360.5L730.8 361.3L732.3 362.3L733.8 363.5L735.3 364.8L736.8 366.3L738.3 368L739.8 369.9L741.3 372L742.8 374.3L744.3 376.9L745.8 379.6L747.3 382.6L748.8 385.9L750.3 389.3L751.8 393.1L753.3 397.1L754.8 401.4L756.3 406L757.8 410.8L759.3 416L760.8 421.6L762.3 427.4L763.8 433.6L765.3 440.2L766.8 447.1L768.3 454.4L769.8 462.2L771.3 470.3L772.8 478.9L774.3 487.9L775.8 497.4L777.3 507.4L778.8 517.9L780.3 528.9" stroke="#556b2f" stroke-width="2.55"/>
<path d="M606.4 531L607.9 527.6L609.4 524.3L610.9 521L612.4 517.7L613.9 514.4L615.4 511.1L616.9 507.8L618.4 504.5L619.9 501.3L621.4 498L622.9 494.8L624.4 491.6L625.9 488.4L627.4 485.2L628.9 482L630.4 478.8L631.9 475.6L633.4 472.5L634.9 469.3L636.4 466.2L637.9 463.1L639.4 460L640.9 456.9L642.4 453.9L643.9 450.9L645.4 447.8L646.9 444.9L648.4 441.9L649.9 438.9L651.4 436L652.9 433.1L654.4 430.2L655.9 427.4L657.4 424.5L658.9 421.7L660.4 419L661.9 416.2L663.4 413.5L664.9 410.9L666.4 408.2L667.9 405.6L669.4 403.1L670.9 400.5L672.4 398.1L673.9 395.6L675.4 393.2L676.9 390.9L678.4 388.6L679.9 386.4L681.4 384.2L682.9 382.1L684.4 380L685.9 378L687.4 376.1L688.9 374.2L690.4 372.4L691.9 370.7L693.4 369.1L694.9 367.5L696.4 366.1L697.9 364.7L699.4 363.5L700.9 362.3L702.4 361.3L703.9 360.4L705.4 359.6L706.9 358.9L708.4 358.4L709.9 358L711.4 357.8L712.9 357.8L714.4 357.9L715.9 358.2L717.4 358.5L718.9 359.1L720.4 359.8L721.9 360.6L723.4 361.6L724.9 362.8L726.4 364.1L727.9 365.6L729.4 367.3L730.9 369.2L732.4 371.3L733.9 373.6L735.4 376.2L736.9 378.9L738.4 381.9L739.9 385.2L741.4 388.6L742.9 392.4L744.4 396.4L745.9 400.7L747.4 405.3L748.9 410.1L750.4 415.3L751.9 420.9L753.4 426.7L754.9 432.9L756.4 439.5L757.9 446.4L759.4 453.7L760.9 461.5L762.4 469.6L763.9 478.2L765.4 487.2L766.9 496.7L768.4 506.7L769.9 517.2L771.4 528.2" stroke="#556b2f" stroke-width="2.55"/>
<path d="M640.7 528.9L642.2 525.8L643.7 522.8L645.2 519.8L646.7 516.7L648.2 513.7L649.7 510.8L651.2 507.8L652.7 504.9L654.2 501.9L655.7 499.1L657.2 496.2L658.7 493.4L660.2 490.6L661.7 487.8L663.2 485L664.7 482.3L666.2 479.6L667.7 477L669.2 474.3L670.7 471.7L672.2 469.2L673.7 466.7L675.2 464.2L676.7 461.8L678.2 459.4L679.7 457.1L681.2 454.8L682.7 452.5L684.2 450.3L685.7 448.2L687.2 446.1L688.7 444.1L690.2 442.1L691.7 440.2L693.2 438.3L694.7 436.6L696.2 434.9L697.7 433.2L699.2 431.7L700.7 430.2L702.2 428.8L703.7 427.4L705.2 426.2L706.7 425L708.2 424L709.7 423L711.2 422.2L712.7 421.4L714.2 420.8L715.7 420.3L717.2 419.9L718.7 419.6L720.2 419.4L721.7 419.4L723.2 419.5L724.7 419.8L726.2 420.2L727.7 420.7L729.2 421.4L730.7 422.3L732.2 423.3L733.7 424.6L735.2 426L736.7 427.5L738.2 429.3L739.7 431.3L741.2 433.5L742.7 435.9L744.2 438.6L745.7 441.4L747.2 444.6L748.7 447.9L750.2 451.6L751.7 455.5L753.2 459.7L754.7 464.2L756.2 469L757.7 474.1L759.2 479.6L760.7 485.3L762.2 491.5L763.7 498L765.2 504.9L766.7 512.2L768.2 519.9L769.7 528" stroke="#556b2f" stroke-width="2.55"/>
<path d="M654.7 530.6L656.2 527.6L657.7 524.8L659.2 521.9L660.7 519.1L662.2 516.3L663.7 513.5L665.2 510.7L666.7 508L668.2 505.3L669.7 502.7L671.2 500L672.7 497.4L674.2 494.9L675.7 492.4L677.2 489.9L678.7 487.5L680.2 485.1L681.7 482.8L683.2 480.5L684.7 478.2L686.2 476L687.7 473.9L689.2 471.8L690.7 469.8L692.2 467.8L693.7 465.9L695.2 464L696.7 462.3L698.2 460.6L699.7 458.9L701.2 457.4L702.7 455.9L704.2 454.5L705.7 453.1L707.2 451.9L708.7 450.7L710.2 449.7L711.7 448.7L713.2 447.9L714.7 447.1L716.2 446.5L717.7 446L719.2 445.6L720.7 445.3L722.2 445.1L723.7 445.1L725.2 445.2L726.7 445.5L728.2 445.9L729.7 446.4L731.2 447.1L732.7 448L734.2 449L735.7 450.3L737.2 451.7L738.7 453.2L740.2 455L741.7 457L743.2 459.2L744.7 461.6L746.2 464.3L747.7 467.1L749.2 470.3L750.7 473.6L752.2 477.3L753.7 481.2L755.2 485.4L756.7 489.9L758.2 494.7L759.7 499.8L761.2 505.3L762.7 511L764.2 517.2L765.7 523.7L767.2 530.6" stroke="#556b2f" stroke-width="2.55"/>
<path d="M656.7 530.4L658.2 527.6L659.7 524.8L661.2 522L662.7 519.3L664.2 516.6L665.7 514L667.2 511.3L668.7 508.7L670.2 506.2L671.7 503.7L673.2 501.2L674.7 498.8L676.2 496.4L677.7 494.1L679.2 491.8L680.7 489.5L682.2 487.3L683.7 485.2L685.2 483.1L686.7 481.1L688.2 479.1L689.7 477.2L691.2 475.3L692.7 473.6L694.2 471.9L695.7 470.2L697.2 468.7L698.7 467.2L700.2 465.8L701.7 464.4L703.2 463.2L704.7 462L706.2 461L707.7 460L709.2 459.2L710.7 458.4L712.2 457.8L713.7 457.3L715.2 456.9L716.7 456.6L718.2 456.4L719.7 456.4L721.2 456.5L722.7 456.8L724.2 457.2L725.7 457.7L727.2 458.4L728.7 459.3L730.2 460.3L731.7 461.6L733.2 463L734.7 464.5L736.2 466.3L737.7 468.3L739.2 470.5L740.7 472.9L742.2 475.6L743.7 478.4L745.2 481.6L746.7 484.9L748.2 488.6L749.7 492.5L751.2 496.7L752.7 501.2L754.2 506L755.7 511.1L757.2 516.6L758.7 522.3L760.2 528.5" stroke="#556b2f" stroke-width="2.55"/>
<path d="M649.8 531L651.3 528.2L652.8 525.4L654.3 522.6L655.8 519.9L657.3 517.2L658.8 514.6L660.3 511.9L661.8 509.3L663.3 506.8L664.8 504.3L666.3 501.8L667.8 499.4L669.3 497L670.8 494.7L672.3 492.4L673.8 490.1L675.3 487.9L676.8 485.8L678.3 483.7L679.8 481.7L681.3 479.7L682.8 477.8L684.3 475.9L685.8 474.2L687.3 472.5L688.8 470.8L690.3 469.3L691.8 467.8L693.3 466.4L694.8 465L696.3 463.8L697.8 462.6L699.3 461.6L700.8 460.6L702.3 459.8L703.8 459L705.3 458.4L706.8 457.9L708.3 457.5L709.8 457.2L711.3 457L712.8 457L714.3 457.1L715.8 457.4L717.3 457.8L718.8 458.3L720.3 459L721.8 459.9L723.3 460.9L724.8 462.2L726.3 463.6L727.8 465.1L729.3 466.9L730.8 468.9L732.3 471.1L733.8 473.5L735.3 476.2L736.8 479L738.3 482.2L739.8 485.5L741.3 489.2L742.8 493.1L744.3 497.3L745.8 501.8L747.3 506.6L748.8 511.7L750.3 517.2L751.8 522.9L753.3 529.1" stroke="#556b2f" stroke-width="2.55"/>
<path d="M664.2 531.9L665.7 529.2L667.2 526.5L668.7 523.9L670.2 521.2L671.7 518.6L673.2 516.1L674.7 513.6L676.2 511.1L677.7 508.7L679.2 506.3L680.7 504L682.2 501.7L683.7 499.4L685.2 497.2L686.7 495.1L688.2 493L689.7 491L691.2 489L692.7 487.1L694.2 485.2L695.7 483.5L697.2 481.8L698.7 480.1L700.2 478.6L701.7 477.1L703.2 475.7L704.7 474.3L706.2 473.1L707.7 471.9L709.2 470.9L710.7 469.9L712.2 469.1L713.7 468.3L715.2 467.7L716.7 467.2L718.2 466.8L719.7 466.5L721.2 466.3L722.7 466.3L724.2 466.4L725.7 466.7L727.2 467.1L728.7 467.6L730.2 468.3L731.7 469.2L733.2 470.2L734.7 471.5L736.2 472.9L737.7 474.4L739.2 476.2L740.7 478.2L742.2 480.4L743.7 482.8L745.2 485.5L746.7 488.3L748.2 491.5L749.7 494.8L751.2 498.5L752.7 502.4L754.2 506.6L755.7 511.1L757.2 515.9L758.7 521L760.2 526.5" stroke="#556b2f" stroke-width="2.55"/>
<path d="M662.8 530.1L664.3 527.6L665.8 525.2L667.3 522.8L668.8 520.5L670.3 518.2L671.8 515.9L673.3 513.7L674.8 511.6L676.3 509.5L677.8 507.5L679.3 505.5L680.8 503.6L682.3 501.7L683.8 500L685.3 498.3L686.8 496.6L688.3 495.1L689.8 493.6L691.3 492.2L692.8 490.8L694.3 489.6L695.8 488.4L697.3 487.4L698.8 486.4L700.3 485.6L701.8 484.8L703.3 484.2L704.8 483.7L706.3 483.3L707.8 483L709.3 482.8L710.8 482.8L712.3 482.9L713.8 483.2L715.3 483.6L716.8 484.1L718.3 484.8L719.8 485.7L721.3 486.7L722.8 488L724.3 489.4L725.8 490.9L727.3 492.7L728.8 494.7L730.3 496.9L731.8 499.3L733.3 502L734.8 504.8L736.3 508L737.8 511.3L739.3 515L740.8 518.9L742.3 523.1L743.8 527.6" stroke="#556b2f" stroke-width="2.55"/>
<path d="M674.7 531.1L676.2 528.7L677.7 526.4L679.2 524.1L680.7 521.8L682.2 519.6L683.7 517.5L685.2 515.4L686.7 513.4L688.2 511.4L689.7 509.5L691.2 507.6L692.7 505.9L694.2 504.2L695.7 502.5L697.2 501L698.7 499.5L700.2 498.1L701.7 496.7L703.2 495.5L704.7 494.3L706.2 493.3L707.7 492.3L709.2 491.5L710.7 490.7L712.2 490.1L713.7 489.6L715.2 489.2L716.7 488.9L718.2 488.7L719.7 488.7L721.2 488.8L722.7 489.1L724.2 489.5L725.7 490L727.2 490.7L728.7 491.6L730.2 492.6L731.7 493.9L733.2 495.3L734.7 496.8L736.2 498.6L737.7 500.6L739.2 502.8L740.7 505.2L742.2 507.9L743.7 510.7L745.2 513.9L746.7 517.2L748.2 520.9L749.7 524.8L751.2 529" stroke="#556b2f" stroke-width="2.55"/>
<path d="M681.7 531.8L683.2 529.7L684.7 527.7L686.2 525.7L687.7 523.8L689.2 521.9L690.7 520.2L692.2 518.5L693.7 516.8L695.2 515.3L696.7 513.8L698.2 512.4L699.7 511L701.2 509.8L702.7 508.6L704.2 507.6L705.7 506.6L707.2 505.8L708.7 505L710.2 504.4L711.7 503.9L713.2 503.5L714.7 503.2L716.2 503L717.7 503L719.2 503.1L720.7 503.4L722.2 503.8L723.7 504.3L725.2 505L726.7 505.9L728.2 506.9L729.7 508.2L731.2 509.6L732.7 511.1L734.2 512.9L735.7 514.9L737.2 517.1L738.7 519.5L740.2 522.2L741.7 525L743.2 528.2L744.7 531.5" stroke="#556b2f" stroke-width="2.55"/>
<path d="M506.3 525L506.2 523.5L506.2 522L506.1 520.5L506.1 519L506.2 517.5L506.2 515.9L506.3 514.4L506.4 513L506.6 511.5L506.7 510L506.9 508.5L507.1 507L507.4 505.5L507.6 504L507.9 502.6L508.2 501.1L508.6 499.6L508.9 498.2L509.3 496.7L509.6 495.3L510 493.8L510.5 492.4L510.9 490.9L511.3 489.5L511.8 488.1L512.3 486.7L512.8 485.2L513.3 483.8L513.8 482.4L514.3 481L514.8 479.6L515.4 478.2L515.9 476.8L516.5 475.4L517.1 474.1L517.7 472.7L518.3 471.3L518.9 469.9L519.5 468.6L520.1 467.2L520.7 465.8L521.3 464.5L522 463.1L522.6 461.7L523.2 460.4L523.9 459L524.5 457.7L525.2 456.3L525.8 454.9L526.5 453.6L527.1 452.2L527.8 450.9L528.5 449.5L529.1 448.2L529.8 446.8L530.4 445.5L531.1 444.1L531.7 442.8L532.4 441.4L533 440L533.7 438.7L534.3 437.3L534.9 436L535.6 434.6L536.2 433.2L536.9 431.9L537.5 430.5L538.1 429.2L538.7 427.8L539.4 426.4L540 425.1L540.6 423.7L541.2 422.3L541.9 421L542.5 419.6L543.1 418.2L543.7 416.8L544.3 415.5L544.9 414.1L545.6 412.7L546.2 411.4L546.8 410L547.4 408.6L548 407.2L548.6 405.9L549.2 404.5L549.8 403.1L550.4 401.7L551 400.4L551.6 399L552.2 397.6L552.8 396.2L553.4 394.9L554 393.5L554.6 392.1L555.2 390.7L555.8 389.3L556.4 388L557 386.6L557.6 385.2L558.2 383.8L558.7 382.4L559.3 381.1L559.9 379.7L560.5 378.3L561.1 376.9L561.7 375.5L562.3 374.2L562.9 372.8L563.4 371.4L564 370L564.6 368.6L565.2 367.2L565.8 365.9L566.4 364.5L567 363.1L567.5 361.7L568.1 360.3L568.7 358.9L569.3 357.6L569.9 356.2L570.5 354.8L571 353.4L571.6 352L572.2 350.6L572.8 349.3L573.4 347.9L574 346.5L574.5 345.1L575.1 343.7L575.7 342.3L576.3 341L576.9 339.6L577.5 338.2L578 336.8L578.6 335.4L579.2 334L579.8 332.7L580.4 331.3L581 329.9L581.6 328.5L582.2 327.1L582.7 325.8L583.3 324.4L583.9 323L584.5 321.6L585.1 320.2L585.7 318.9L586.3 317.5L586.9 316.1L587.5 314.7L588.1 313.3L588.7 312L589.3 310.6L589.9 309.2L590.5 307.8L591.1 306.5L591.7 305.1L592.3 303.7L592.9 302.3L593.5 301L594.1 299.6L594.7 298.2L595.3 296.8L595.9 295.5L596.5 294.1L597.1 292.7L597.8 291.4L598.4 290L599 288.6L599.6 287.3L600.2 285.9L600.9 284.5L601.5 283.2L602.1 281.8L602.7 280.4L603.4 279.1L604 277.7L604.6 276.3L605.3 275L605.9 273.6L606.5 272.2L607.2 270.9L607.8 269.5L608.5 268.2L609.1 266.8L609.7 265.5L610.4 264.1L611 262.8L611.7 261.4L612.4 260L613 258.7L613.7 257.3L614.3 256L615 254.6L615.6 253.3L616.3 251.9L616.9 250.6L617.6 249.2L618.2 247.9L618.9 246.5L619.5 245.1L620.1 243.8L620.8 242.4L621.4 241.1L622 239.7L622.7 238.3L623.3 237L623.9 235.6L624.5 234.2L625.1 232.9L625.8 231.5L626.4 230.1L627 228.8L627.7 227.4L628.3 226.1L628.9 224.7L629.6 223.4L630.3 222L630.9 220.7L631.6 219.3L632.3 218L633 216.7L633.7 215.4L634.5 214.1L635.2 212.8L636 211.5L636.7 210.2L637.5 208.9L638.2 207.6L639 206.3L639.8 205L640.6 203.7L641.4 202.4L642.2 201.2L643 199.9L643.8 198.6L644.6 197.4L645.4 196.1L646.3 194.8L647.1 193.6L647.9 192.3L648.7 191L649.5 189.8L650.3 188.5L651.2 187.2L652 186L652.8 184.7L653.6 183.5L654.4 182.2L655.2 180.9L656 179.6L656.8 178.4L657.6 177.1L658.4 175.8L659.2 174.5L659.9 173.3L660.7 172L661.5 170.7L662.3 169.5L663.1 168.2L663.9 166.9L664.6 165.6L665.4 164.4L666.2 163.1L667.1 161.9L667.9 160.6L668.7 159.4L669.5 158.1L670.4 156.9L671.2 155.7L672.1 154.5L673 153.2L673.8 152L674.7 150.8L675.7 149.6L676.6 148.5L677.5 147.3L678.5 146.1L679.5 145L680.5 143.9L681.5 142.7L682.6 141.6L683.6 140.5L684.7 139.4L685.8 138.3L686.9 137.3L688.1 136.3L689.3 135.3L690.5 134.3L691.7 133.4L693 132.5L694.3 131.7L695.6 130.9L696.9 130.2L698.3 129.6L699.6 129L701.1 128.6L702.5 128.2L703.9 127.9L705.4 127.7L706.9 127.5L708.4 127.5L709.9 127.5L711.3 127.7L712.8 127.9L714.2 128.2L715.6 128.6L716.9 129L718.3 129.6L719.5 130.2L720.7 131L721.9 131.8L723 132.7L724 133.6L725 134.7L726 135.8L726.9 136.9L727.8 138.1L728.6 139.4L729.4 140.7L730.2 142L731 143.4L731.7 144.7L732.4 146.2L733.1 147.6L733.7 149L734.4 150.5L735 151.9L735.6 153.4L736.3 154.8L736.9 156.3L737.5 157.7L738 159.2L738.6 160.6L739.2 162L739.7 163.5L740.3 164.9L740.8 166.3L741.4 167.8L741.9 169.2L742.4 170.6L742.9 172L743.4 173.4L743.9 174.9L744.4 176.3L744.9 177.7L745.4 179.1L745.9 180.5L746.3 181.9L746.8 183.3L747.2 184.8L747.7 186.2L748.1 187.6L748.5 189L749 190.4L749.4 191.8L749.8 193.3L750.2 194.7L750.6 196.1L751 197.5L751.4 199L751.8 200.4L752.2 201.8L752.6 203.2L753 204.7L753.3 206.1L753.7 207.6L754.1 209L754.4 210.4L754.8 211.9L755.1 213.3L755.5 214.8L755.8 216.2L756.2 217.7L756.5 219.1L756.8 220.6L757.2 222.1L757.5 223.5L757.8 225L758.1 226.4L758.4 227.9L758.7 229.4L759 230.8L759.3 232.3L759.6 233.8L759.9 235.2L760.2 236.7L760.5 238.2L760.8 239.7L761.1 241.1L761.4 242.6L761.6 244.1L761.9 245.6L762.2 247.1L762.4 248.6L762.7 250L763 251.5L763.2 253L763.5 254.5L763.7 256L764 257.5L764.2 259L764.5 260.4L764.7 261.9L764.9 263.4L765.2 264.9L765.4 266.4L765.7 267.9L765.9 269.4L766.1 270.9L766.3 272.4L766.6 273.9L766.8 275.4L767 276.9L767.2 278.4L767.4 279.9L767.6 281.3L767.9 282.8L768.1 284.3L768.3 285.8L768.5 287.3L768.7 288.8L768.9 290.3L769.1 291.8L769.3 293.3L769.5 294.8L769.7 296.3L769.9 297.8L770.1 299.3L770.3 300.8L770.5 302.3L770.7 303.8L770.9 305.3L771 306.8L771.2 308.2L771.4 309.7L771.6 311.2L771.8 312.7L772 314.2L772.1 315.7L772.3 317.2L772.5 318.7L772.7 320.2L772.9 321.7L773 323.2L773.2 324.7L773.4 326.2L773.6 327.6L773.7 329.1L773.9 330.6L774.1 332.1L774.2 333.6L774.4 335.1L774.6 336.6L774.7 338.1L774.9 339.6L775 341.1L775.2 342.6L775.4 344L775.5 345.5L775.7 347L775.8 348.5L776 350L776.1 351.5L776.3 353L776.5 354.5L776.6 356L776.8 357.5L776.9 359L777.1 360.4L777.2 361.9L777.3 363.4L777.5 364.9L777.6 366.4L777.8 367.9L777.9 369.4L778.1 370.9L778.2 372.4L778.4 373.9L778.5 375.3L778.6 376.8L778.8 378.3L778.9 379.8L779.1 381.3L779.2 382.8L779.3 384.3L779.5 385.8L779.6 387.3L779.7 388.8L779.9 390.3L780 391.7L780.1 393.2L780.3 394.7L780.4 396.2L780.5 397.7L780.7 399.2L780.8 400.7L780.9 402.2L781.1 403.7L781.2 405.2L781.3 406.7L781.4 408.1L781.6 409.6L781.7 411.1L781.8 412.6L782 414.1L782.1 415.6L782.2 417.1L782.3 418.6L782.5 420.1L782.6 421.6L782.7 423.1L782.8 424.6L782.9 426.1L783.1 427.5L783.2 429L783.3 430.5L783.4 432L783.6 433.5L783.7 435L783.8 436.5L783.9 438L784 439.5L784.2 441L784.3 442.5L784.4 444L784.5 445.5L784.6 447L784.8 448.5L784.9 450L785 451.5L785.1 453L785.2 454.4L785.4 455.9L785.5 457.4L785.6 458.9L785.7 460.4L785.8 461.9L786 463.4L786.1 464.9L786.2 466.4L786.3 467.9L786.4 469.4L786.6 470.9L786.7 472.4L786.8 473.9L786.9 475.4L787 476.9L787.2 478.4L787.3 479.9L787.4 481.4L787.5 482.9L787.6 484.4L787.8 485.9L787.9 487.4L788 488.9L788.1 490.4L788.3 491.9L788.4 493.4L788.5 494.9L788.6 496.4L788.7 497.9L788.9 499.4L789 500.9L789.1 502.4L789.2 504L789.4 505.5L789.5 507L789.6 508.5L789.7 510L789.9 511.5L790 513L790.1 514.5L790.2 516L790.4 517.5L790.5 519L790.6 520.5L790.8 522L790.9 523.5L791 525" stroke="#ff00ff" stroke-width="2.2"/>
<path d="M221 525.1L221.5 522.1L222 519L222.5 515.9L223 512.6L223.5 509.3L224 505.8L224.5 502.3L225 498.6L225.5 494.8L226 490.9L226.5 486.9L227 482.7L227.5 478.3L228 473.8L228.5 469.1L229 464.2L229.5 459.2L230 453.9L230.5 448.4L231 442.7L231.5 436.8L232 430.7L232.5 424.3L233 417.8L233.5 411.2L234 404.4L234.5 397.6L235 390.8L235.5 384L236 377.3L236.5 370.7L237 364.3L237.5 358.1L238 352L238.5 346.2L239 340.6L239.5 335.2L240 330.1L240.5 325.1L241 320.3L241.5 315.7L242 311.2L242.5 306.9L243 302.8L243.5 298.8L244 295L244.5 291.3L245 287.7L245.5 284.2L246 280.8L246.5 277.5L247 274.3L247.5 271.2L248 268.1L248.5 265.2L249 262.3L249.5 259.5L250 256.7L250.5 254.1L251 251.4L251.5 248.9L252 246.3L252.5 243.9L253 241.5L253.5 239.1L254 236.8L254.5 234.5L255 232.3L255.5 230.1L256 227.9L256.5 225.8L257 223.7L257.5 221.7L258 219.6L258.5 217.6L259 215.7L259.5 213.8L260 211.9L260.5 210.1L261 208.3L261.5 206.7L262 205.1L262.5 203.6L263 202.1L263.5 200.7L264 199.4L264.5 198.1L265 196.9L265.5 195.8L266 194.7L266.5 193.7L267 192.7L267.5 191.8L268 190.9L268.5 190L269 189.2L269.5 188.4L270 187.7L270.5 187L271 186.3L271.5 185.6L272 185L272.5 184.4L273 183.8L273.5 183.3L274 182.8L274.5 182.3L275 181.8L275.5 181.3L276 180.9L276.5 180.5L277 180.1L277.5 179.7L278 179.3L278.5 179L279 178.6L279.5 178.3L280 178L280.5 177.7L281 177.4L281.5 177.1L282 176.9L282.5 176.6L283 176.4L283.5 176.1L284 175.9L284.5 175.7L285 175.5L285.5 175.3L286 175.2L286.5 175L287 174.8L287.5 174.7L288 174.5L288.5 174.4L289 174.3L289.5 174.2L290 174L290.5 173.9L291 173.8L291.5 173.7L292 173.7L292.5 173.6L293 173.5L293.5 173.5L294 173.4L294.5 173.4L295 173.3L295.5 173.3L296 173.3L296.5 173.3L297 173.3L297.5 173.3L298 173.3L298.5 173.3L299 173.4L299.5 173.4L300 173.3L300.5 173.3L301 173.4L301.5 173.5L302 173.5L302.5 173.6L303 173.7L303.5 173.9L304 174L304.5 174.1L305 174.3L305.5 174.4L306 174.6L306.5 174.8L307 175L307.5 175.3L308 175.5L308.5 175.8L309 176.1L309.5 176.4L310 176.7L310.5 177.1L311 177.5L311.5 177.9L312 178.3L312.5 178.7L313 179.1L313.5 179.5L314 180L314.5 180.4L315 180.8L315.5 181.3L316 181.7L316.5 182.1L317 182.6L317.5 183L318 183.5L318.5 183.9L319 184.4L319.5 184.8L320 185.3L320.5 185.7L321 186.2L321.5 186.7L322 187.1L322.5 187.6L323 188.1L323.5 188.6L324 189.1L324.5 189.6L325 190.1L325.5 190.7L326 191.2L326.5 191.8L327 192.3L327.5 192.9L328 193.5L328.5 194.1L329 194.8L329.5 195.4L330 196.1L330.5 196.7L331 197.4L331.5 198.2L332 198.9L332.5 199.7L333 200.5L333.5 201.3L334 202.1L334.5 203L335 203.9L335.5 204.8L336 205.8L336.5 206.7L337 207.7L337.5 208.7L338 209.8L338.5 210.8L339 211.9L339.5 213L340 214.1L340.5 215.3L341 216.4L341.5 217.6L342 218.7L342.5 219.9L343 221.1L343.5 222.3L344 223.5L344.5 224.7L345 225.9L345.5 227.1L346 228.3L346.5 229.5L347 230.7L347.5 231.9L348 233.1L348.5 234.3L349 235.5L349.5 236.7L350 237.8L350.5 239L351 240.2L351.5 241.3L352 242.6L352.5 243.7L353 244.8L353.5 245.9L354 247L354.5 248.1L355 249.1L355.5 250.2L356 251.2L356.5 252.2L357 253.2L357.5 254.2L358 255.1L358.5 256L359 256.9L359.5 257.7L360 258.5L360.5 259.3L361 260L361.5 260.7L362 261.4L362.5 262L363 262.6L363.5 263.2L364 263.7L364.5 264.1L365 264.5L365.5 264.9L366 265.2L366.5 265.4L367 265.7L367.5 265.8L368 265.9L368.5 265.9L369 265.9L369.5 265.9L370 265.8L370.5 265.7L371 265.5L371.5 265.3L372 265.1L372.5 264.9L373 264.6L373.5 264.3L374 264L374.5 263.7L375 263.3L375.5 263L376 262.6L376.5 262.2L377 261.8L377.5 261.4L378 260.9L378.5 260.5L379 260L379.5 259.5L380 259.1L380.5 258.6L381 258L381.5 257.5L382 257L382.5 256.5L383 256L383.5 255.6L384 255.2L384.5 254.8L385 254.4L385.5 254.1L386 253.8L386.5 253.5L387 253.3L387.5 253.2L388 253L388.5 253L389 252.9L389.5 253L390 253L390.5 253.1L391 253.3L391.5 253.5L392 253.7L392.5 254L393 254.3L393.5 254.7L394 255.1L394.5 255.5L395 256L395.5 256.5L396 257L396.5 257.7L397 258.3L397.5 259.1L398 259.8L398.5 260.7L399 261.6L399.5 262.6L400 263.6L400.5 264.7L401 265.9L401.5 267.1L402 268.5L402.5 269.9L403 271.4L403.5 273.1L404 275L404.5 277.1L405 279.6L405.5 282.4L406 285.5L406.5 288.6L407 291.8L407.5 295L408 298.2L408.5 301.4L409 304.7L409.5 308L410 311.2L410.5 314.5L411 317.7L411.5 320.9L412 324.1L412.5 327.3L413 330.4L413.5 333.4L414 336.4L414.5 339.3L415 342.2L415.5 344.9L416 347.5L416.5 350L417 352.4L417.5 354.6L418 356.7L418.5 358.5L419 360.2L419.5 361.7L420 363L420.5 364.1L421 365L421.5 365.7L422 366.1L422.5 366.4L423 366.4L423.5 366.3L424 366.1L424.5 365.7L425 365.3L425.5 364.8L426 364.3L426.5 363.6L427 363L427.5 362.2L428 361.5L428.5 360.7L429 359.9L429.5 359.1L430 358.3L430.5 357.4L431 356.6L431.5 355.7L432 354.9L432.5 354L433 353.2L433.5 352.3L434 351.4L434.5 350.5L435 349.7L435.5 348.8L436 347.9L436.5 347.1L437 346.2L437.5 345.3L438 344.5L438.5 343.7L439 342.8L439.5 341.9L440 341.1L440.5 340.2L441 339.4L441.5 338.6L442 337.7L442.5 336.9L443 336.1L443.5 335.2L444 334.4L444.5 333.6L445 332.8L445.5 332L446 331.2L446.5 330.4L447 329.6L447.5 328.8L448 328L448.5 327.2L449 326.4L449.5 325.6L450 324.8L450.5 324L451 323.2L451.5 322.5L452 321.7L452.5 320.9L453 320.2L453.5 319.4L454 318.6L454.5 317.9L455 317.1L455.5 316.4L456 315.6L456.5 314.9L457 314.2L457.5 313.4L458 312.7L458.5 312L459 311.2L459.5 310.5L460 309.8L460.5 309.1L461 308.3L461.5 307.6L462 306.9L462.5 306.2L463 305.5L463.5 304.8L464 304.1L464.5 303.4L465 302.7L465.5 302L466 301.3L466.5 300.6L467 299.9L467.5 299.3L468 298.6L468.5 297.9L469 297.2L469.5 296.6L470 295.9L470.5 295.2L471 294.6L471.5 293.9L472 293.3L472.5 292.6L473 291.9L473.5 291.2L474 290.5L474.5 289.5L475 288.4L475.5 286.7L476 285.5L476.5 284.7L477 284L477.5 283.3L478 282.6L478.5 282L479 281.3L479.5 280.7L480 280L480.5 279.4L481 278.8L481.5 278.2L482 277.6L482.5 277L483 276.4L483.5 275.9L484 275.3L484.5 274.7L485 274.2L485.5 273.6L486 273.1L486.5 272.6L487 272.1L487.5 271.5L488 271L488.5 270.5L489 270L489.5 269.5L490 269L490.5 268.6L491 268.1L491.5 267.6L492 267.2L492.5 266.7L493 266.3L493.5 265.8L494 265.4L494.5 264.9L495 264.5L495.5 264.1L496 263.6L496.5 263.2L497 262.8L497.5 262.4L498 262L498.5 261.6L499 261.2L499.5 260.8L500 260.4L500.5 260.1L501 259.7L501.5 259.3L502 258.9L502.5 258.6L503 258.2L503.5 257.8L504 257.5L504.5 257.1L505 256.8L505.5 256.4L506 256.1L506.5 255.6L507 255.2L507.5 254.8L508 254.5L508.5 254.2L509 253.8L509.5 253.5L510 253.2L510.5 252.9L511 252.6L511.5 252.3L512 252.1L512.5 251.8L513 251.5L513.5 251.2L514 251L514.5 250.7L515 250.5L515.5 250.2L516 250L516.5 249.7L517 249.5L517.5 249.2L518 249L518.5 248.7L519 248.5L519.5 248.3L520 248L520.5 247.8L521 247.6L521.5 247.4L522 247.2L522.5 246.9L523 246.7L523.5 246.5L524 246.3L524.5 246.1L525 245.9L525.5 245.7L526 245.5L526.5 245.3L527 245.1L527.5 244.8L528 244.6L528.5 244.4L529 244.3L529.5 244.1L530 243.9L530.5 243.7L531 243.5L531.5 243.3L532 243.1L532.5 242.9L533 242.7L533.5 242.5L534 242.3L534.5 242.1L535 241.9L535.5 241.8L536 241.6L536.5 241.4L537 241.2L537.5 241L538 240.8L538.5 240.6L539 240.5L539.5 240.3L540 240.1L540.5 239.9L541 239.7L541.5 239.6L542 239.4L542.5 239.2L543 239L543.5 238.8L544 238.7L544.5 238.5L545 238.3L545.5 238.1L546 237.9L546.5 237.7L547 237.6L547.5 237.4L548 237.2L548.5 237L549 236.8L549.5 236.6L550 236.4L550.5 236.2L551 236L551.5 235.7L552 235.5L552.5 235.3L553 235.1L553.5 234.8L554 234.6L554.5 234.3L555 234.1L555.5 233.8L556 233.6L556.5 233.3L557 233L557.5 232.7L558 232.5L558.5 232.2L559 231.9L559.5 231.5L560 231.2L560.5 230.9L561 230.6L561.5 230.2L562 229.9L562.5 229.5L563 229.2L563.5 228.8L564 228.4L564.5 228L565 227.6L565.5 227.2L566 226.8L566.5 226.4L567 226L567.5 225.6L568 225.1L568.5 224.7L569 224.2L569.5 223.8L570 223.3L570.5 222.8L571 222.3L571.5 221.9L572 221.4L572.5 220.8L573 220.3L573.5 219.8L574 219.3L574.5 218.7L575 218.2L575.5 217.7L576 217.1L576.5 216.5L577 216L577.5 215.4L578 214.8L578.5 214.2L579 213.6L579.5 213L580 212.4L580.5 211.7L581 211.1L581.5 210.5L582 209.8L582.5 209.2L583 208.5L583.5 207.9L584 207.2L584.5 206.5L585 205.8L585.5 205.2L586 204.5L586.5 203.8L587 203.1L587.5 202.3L588 201.6L588.5 200.9L589 200.2L589.5 199.4L590 198.7L590.5 197.9L591 197.2L591.5 196.4L592 195.7L592.5 194.9L593 194.1L593.5 193.3L594 192.6L594.5 191.8L595 191L595.5 190.2L596 189.4L596.5 188.6L597 187.8L597.5 187L598 186.1L598.5 185.3L599 184.5L599.5 183.7L600 182.9L600.5 182L601 181.2L601.5 180.4L602 179.5L602.5 178.7L603 177.8L603.5 177L604 176.1L604.5 175.3L605 174.4L605.5 173.6L606 172.7L606.5 171.8L607 171L607.5 170.1L608 169.3L608.5 168.4L609 167.5L609.5 166.6L610 165.8L610.5 164.9L611 164L611.5 163.1L612 162.3L612.5 161.4L613 160.5L613.5 159.6L614 158.7L614.5 157.9L615 157L615.5 156.1L616 155.2L616.5 154.3L617 153.4L617.5 152.5L618 151.6L618.5 150.7L619 149.8L619.5 148.9L620 148L620.5 147.1L621 146.2L621.5 145.3L622 144.4L622.5 143.5L623 142.6L623.5 141.7L624 140.8L624.5 139.9L625 139L625.5 138.1L626 137.2L626.5 136.3L627 135.4L627.5 134.5L628 133.5L628.5 132.6L629 131.7L629.5 130.8L630 129.9L630.5 129L631 128.1L631.5 127.2L632 126.3L632.5 125.4L633 124.5L633.5 123.6L634 122.8L634.5 121.9L635 121L635.5 120.1L636 119.2L636.5 118.4L637 117.5L637.5 116.6L638 115.7L638.5 114.9L639 114L639.5 113.2L640 112.3L640.5 111.5L641 110.6L641.5 109.8L642 109L642.5 108.1L643 107.3L643.5 106.5L644 105.7L644.5 104.9L645 104.1L645.5 103.3L646 102.5L646.5 101.7L647 101L647.5 100.2L648 99.4L648.5 98.7L649 97.9L649.5 97.2L650 96.4L650.5 95.7L651 95L651.5 94.3L652 93.5L652.5 92.8L653 92.1L653.5 91.4L654 90.7L654.5 90L655 89.3L655.5 88.6L656 88L656.5 87.3L657 86.6L657.5 85.9L658 85.3L658.5 84.6L659 84L659.5 83.3L660 82.7L660.5 82L661 81.4L661.5 80.8L662 80.1L662.5 79.5L663 78.9L663.5 78.3L664 77.7L664.5 77.1L665 76.5L665.5 75.9L666 75.3L666.5 74.7L667 74.1L667.5 73.5L668 73L668.5 72.4L669 71.8L669.5 71.3L670 70.7L670.5 70.2L671 69.6L671.5 69.1L672 68.5L672.5 68L673 67.5L673.5 67L674 66.5L674.5 66L675 65.5L675.5 65L676 64.5L676.5 64.1L677 63.6L677.5 63.2L678 62.8L678.5 62.3L679 61.9L679.5 61.5L680 61.1L680.5 60.8L681 60.4L681.5 60L682 59.7L682.5 59.4L683 59L683.5 58.7L684 58.4L684.5 58.1L685 57.9L685.5 57.6L686 57.3L686.5 57.1L687 56.8L687.5 56.6L688 56.4L688.5 56.2L689 56L689.5 55.8L690 55.6L690.5 55.5L691 55.3L691.5 55.1L692 55L692.5 54.9L693 54.8L693.5 54.6L694 54.5L694.5 54.4L695 54.4L695.5 54.3L696 54.2L696.5 54.1L697 54.1L697.5 54L698 54L698.5 54L699 54L699.5 53.9L700 53.9L700.5 54L701 54L701.5 54L702 54L702.5 54.1L703 54.1L703.5 54.2L704 54.2L704.5 54.3L705 54.4L705.5 54.5L706 54.6L706.5 54.8L707 54.9L707.5 55L708 55.2L708.5 55.4L709 55.6L709.5 55.7L710 56L710.5 56.2L711 56.4L711.5 56.6L712 56.9L712.5 57.1L713 57.4L713.5 57.7L714 58L714.5 58.3L715 58.6L715.5 59L716 59.3L716.5 59.7L717 60.1L717.5 60.4L718 60.8L718.5 61.3L719 61.7L719.5 62.1L720 62.6L720.5 63L721 63.5L721.5 64L722 64.5L722.5 65L723 65.6L723.5 66.1L724 66.7L724.5 67.2L725 67.8L725.5 68.4L726 69L726.5 69.7L727 70.3L727.5 71L728 71.7L728.5 72.4L729 73.1L729.5 73.8L730 74.6L730.5 75.4L731 76.2L731.5 77L732 77.8L732.5 78.7L733 79.6L733.5 80.5L734 81.4L734.5 82.4L735 83.4L735.5 84.4L736 85.5L736.5 86.5L737 87.7L737.5 88.8L738 90L738.5 91.2L739 92.4L739.5 93.7L740 95L740.5 96.4L741 97.8L741.5 99.2L742 100.6L742.5 102.1L743 103.6L743.5 105.2L744 106.7L744.5 108.3L745 109.9L745.5 111.5L746 113.1L746.5 114.7L747 116.4L747.5 118L748 119.7L748.5 121.4L749 123.1L749.5 124.9L750 126.6L750.5 128.4L751 130.2L751.5 132L752 133.8L752.5 135.7L753 137.6L753.5 139.5L754 141.4L754.5 143.3L755 145.3L755.5 147.3L756 149.3L756.5 151.3L757 153.4L757.5 155.5L758 157.6L758.5 159.8L759 162L759.5 164.2L760 166.4L760.5 168.7L761 171L761.5 173.4L762 175.8L762.5 178.2L763 180.6L763.5 183.1L764 185.7L764.5 188.3L765 190.9L765.5 193.6L766 196.3L766.5 199.1L767 201.9L767.5 204.8L768 207.7L768.5 210.7L769 213.8L769.5 216.9L770 220.1L770.5 223.4L771 226.7L771.5 230.1L772 233.6L772.5 237.2L773 240.8L773.5 244.6L774 248.4L774.5 252.4L775 256.4L775.5 260.6L776 264.9L776.5 269.3L777 273.9L777.5 278.6L778 283.4L778.5 288.4L779 293.5L779.5 298.9L780 304.3L780.5 310L781 315.9L781.5 321.9L782 328.2L782.5 334.6L783 341.3L783.5 348.1L784 355.1L784.5 362.3L785 369.6L785.5 377.1L786 384.6L786.5 392.2L787 399.8L787.5 407.4L788 415L788.5 422.4L789 429.7L789.5 436.9L790 443.9L790.5 450.8L791 457.4L791.5 463.9L792 470.1L792.5 476.2L793 482L793.5 487.7L794 493.2L794.5 498.5L795 503.6L795.5 508.6L796 513.5L796.5 518.1L797 522.7L797.5 524.9L798 524.9" stroke="#000000" stroke-width="2.6"/>
</g>
<path d="M181.9 234.9V239.3M178.2 234.9h7.4M178.2 239.3h7.4M173.7 276.1V280.5M170 276.1h7.4M170 280.5h7.4M163.4 332.6V337M159.7 332.6h7.4M159.7 337h7.4M317 175.1V180.5M313.3 175.1h7.4M313.3 180.5h7.4M323.3 182.9V188.3M319.6 182.9h7.4M319.6 188.3h7.4M327.5 189.3V194.7M323.8 189.3h7.4M323.8 194.7h7.4M332.1 194.8V200.2M328.4 194.8h7.4M328.4 200.2h7.4M366.6 239.9V259.9M362.9 239.9h7.4M362.9 259.9h7.4M371 250.8V274.4M367.3 250.8h7.4M367.3 274.4h7.4M374.3 250.8V274.4M370.6 250.8h7.4M370.6 274.4h7.4M378.2 253.2V272.6M374.5 253.2h7.4M374.5 272.6h7.4M382.7 253.5V278.9M379 253.5h7.4M379 278.9h7.4M384.6 239.9V260.1M380.9 239.9h7.4M380.9 260.1h7.4M469 293.6V300.6M465.3 293.6h7.4M465.3 300.6h7.4M473.4 288V295M469.7 288h7.4M469.7 295h7.4M477.4 281.3V288.3M473.7 281.3h7.4M473.7 288.3h7.4M481.3 274V281M477.6 274h7.4M477.6 281h7.4M485.2 267.3V274.3M481.5 267.3h7.4M481.5 274.3h7.4M489.7 274.7V283.7M486 274.7h7.4M486 283.7h7.4M495.2 258.4V267.4M491.5 258.4h7.4M491.5 267.4h7.4M498.5 252V265.6M494.8 252h7.4M494.8 265.6h7.4M502 250.6V264.6M498.3 250.6h7.4M498.3 264.6h7.4M505.5 250.8V265.6M501.8 250.8h7.4M501.8 265.6h7.4M509.5 250.8V265.6M505.8 250.8h7.4M505.8 265.6h7.4M514.2 245V260.6M510.5 245h7.4M510.5 260.6h7.4M517.3 237V250.5M513.6 237h7.4M513.6 250.5h7.4M522.8 221.6V237M519.1 221.6h7.4M519.1 237h7.4M530.7 203V249.2M527 203h7.4M527 249.2h7.4M705.5 47.2V65.6M701.8 47.2h7.4M701.8 65.6h7.4M714.2 54.4V72.8M710.5 54.4h7.4M710.5 72.8h7.4M722.4 75.7V98.1M718.7 75.7h7.4M718.7 98.1h7.4M730.8 72.1V96M727.1 72.1h7.4M727.1 96h7.4M739.5 81.5V114.4M735.8 81.5h7.4M735.8 114.4h7.4M747.7 82.4V123.4M744 82.4h7.4M744 123.4h7.4M756.3 69.2V117.3M752.6 69.2h7.4M752.6 117.3h7.4M764.8 103.7V202.8M761.1 103.7h7.4M761.1 202.8h7.4" stroke="#e51e10" stroke-width="1.8" fill="none"/>
<g fill="#e51e10"><circle cx="181.9" cy="237.1" r="3.7"/><circle cx="173.7" cy="278.3" r="3.7"/><circle cx="167.5" cy="311.8" r="3.7"/><circle cx="163.4" cy="334.8" r="3.7"/><circle cx="153.5" cy="386.8" r="3.7"/><circle cx="142.3" cy="442.1" r="3.7"/><circle cx="317" cy="177.8" r="3.7"/><circle cx="323.3" cy="185.6" r="3.7"/><circle cx="327.5" cy="192" r="3.7"/><circle cx="332.1" cy="197.5" r="3.7"/><circle cx="366.6" cy="249.2" r="3.7"/><circle cx="371" cy="262.7" r="3.7"/><circle cx="374.3" cy="262.7" r="3.7"/><circle cx="378.2" cy="262.7" r="3.7"/><circle cx="382.7" cy="264.8" r="3.7"/><circle cx="384.6" cy="249.2" r="3.7"/><circle cx="469" cy="297.1" r="3.7"/><circle cx="473.4" cy="291.5" r="3.7"/><circle cx="477.4" cy="284.8" r="3.7"/><circle cx="481.3" cy="277.5" r="3.7"/><circle cx="485.2" cy="270.8" r="3.7"/><circle cx="489.7" cy="279.2" r="3.7"/><circle cx="495.2" cy="262.9" r="3.7"/><circle cx="498.5" cy="258.8" r="3.7"/><circle cx="502" cy="257.6" r="3.7"/><circle cx="505.5" cy="258.2" r="3.7"/><circle cx="509.5" cy="258.2" r="3.7"/><circle cx="514.2" cy="252.8" r="3.7"/><circle cx="517.3" cy="241.5" r="3.7"/><circle cx="522.8" cy="229.5" r="3.7"/><circle cx="530.7" cy="222.5" r="3.7"/><circle cx="705.5" cy="55.8" r="3.7"/><circle cx="714.2" cy="63.1" r="3.7"/><circle cx="722.4" cy="86" r="3.7"/><circle cx="730.8" cy="83" r="3.7"/><circle cx="739.5" cy="96.5" r="3.7"/><circle cx="747.7" cy="99.6" r="3.7"/><circle cx="756.3" cy="89.3" r="3.7"/><circle cx="764.8" cy="137.8" r="3.7"/></g>
<rect x="124.4" y="20.8" width="674.6" height="490.4" fill="none" stroke="#000" stroke-width="1.5"/>
<path d="M224.1 72.5H286.9" stroke="#9400d3" stroke-width="2.5"/><path d="M224.1 98H286.9" stroke="#ff7f50" stroke-width="2.2"/><path d="M224.1 123.1H286.9" stroke="#56b4e9" stroke-width="1.7"/><path d="M224.1 148.5H286.9" stroke="#e69f00" stroke-width="2.3"/><path d="M452.6 72.5H515.4" stroke="#0000ff" stroke-width="2.6"/><path d="M452.6 98H515.4" stroke="#556b2f" stroke-width="2.4"/><path d="M452.6 123.1H515.4" stroke="#ff00ff" stroke-width="2.2"/><path d="M452.6 148.5H515.4" stroke="#000" stroke-width="2.6"/>
<g font-family="Liberation Sans" fill="#000" stroke="#fff" stroke-width="0.16"><text transform="translate(209.6 80) scale(1.0 1)" font-size="23.2" text-anchor="end">SSA</text><text transform="translate(209.6 105.5) scale(1.0 1)" font-size="23.2" text-anchor="end">SSC</text><text transform="translate(209.6 130.6) scale(1.0 1)" font-size="23.2" text-anchor="end">Dust</text><text transform="translate(209.6 156) scale(1.0 1)" font-size="23.2" text-anchor="end">Disk</text><text transform="translate(438.4 80) scale(1.0 1)" font-size="23.2" text-anchor="end">EC/Dust</text><text transform="translate(438.4 105.5) scale(1.0 1)" font-size="23.2" text-anchor="end">EC/BLR</text><text transform="translate(438.4 130.6) scale(1.0 1)" font-size="23.2" text-anchor="end">EC/H<tspan font-family="Liberation Serif" font-size="1.18em">α</tspan></text><text transform="translate(438.4 156) scale(1.0 1)" font-size="23.2" text-anchor="end">Model J=27</text><text transform="translate(427.2 54.3) scale(1.0 1)" font-size="28.2" text-anchor="start">Epoch A</text><text transform="translate(143.9 538.5) scale(1.0 1)" font-size="23.2" text-anchor="start">10<tspan dy="-11.6" font-size="18.6">10</tspan></text><text transform="translate(228.2 538.5) scale(1.0 1)" font-size="23.2" text-anchor="start">10<tspan dy="-11.6" font-size="18.6">12</tspan></text><text transform="translate(312.6 538.5) scale(1.0 1)" font-size="23.2" text-anchor="start">10<tspan dy="-11.6" font-size="18.6">14</tspan></text><text transform="translate(396.9 538.5) scale(1.0 1)" font-size="23.2" text-anchor="start">10<tspan dy="-11.6" font-size="18.6">16</tspan></text><text transform="translate(481.3 538.5) scale(1.0 1)" font-size="23.2" text-anchor="start">10<tspan dy="-11.6" font-size="18.6">18</tspan></text><text transform="translate(565.6 538.5) scale(1.0 1)" font-size="23.2" text-anchor="start">10<tspan dy="-11.6" font-size="18.6">20</tspan></text><text transform="translate(650 538.5) scale(1.0 1)" font-size="23.2" text-anchor="start">10<tspan dy="-11.6" font-size="18.6">22</tspan></text><text transform="translate(734.3 538.5) scale(1.0 1)" font-size="23.2" text-anchor="start">10<tspan dy="-11.6" font-size="18.6">24</tspan></text><text transform="translate(62.2 30.8) scale(1.0 1)" font-size="23.2" text-anchor="start">10<tspan dy="-11.6" font-size="18.6">-10</tspan></text><text transform="translate(62.2 194.2) scale(1.0 1)" font-size="23.2" text-anchor="start">10<tspan dy="-11.6" font-size="18.6">-11</tspan></text><text transform="translate(62.2 357.5) scale(1.0 1)" font-size="23.2" text-anchor="start">10<tspan dy="-11.6" font-size="18.6">-12</tspan></text><text transform="translate(62.2 520.9) scale(1.0 1)" font-size="23.2" text-anchor="start">10<tspan dy="-11.6" font-size="18.6">-13</tspan></text><text transform="translate(461.5 562.3) scale(1.0 1)" font-size="23.2" text-anchor="middle"><tspan font-family="Liberation Serif" font-size="1.12em">ν</tspan> (Hz)</text><text transform="translate(51.2 358.2) rotate(-90) scale(1.0 1)" font-size="23.2" text-anchor="start"><tspan font-family="Liberation Serif" font-size="1.12em">ν</tspan> F<tspan dy="7" font-size="18.6"><tspan font-family="Liberation Serif" font-size="1.12em">ν</tspan></tspan><tspan dy="-7"> (erg cm</tspan><tspan dy="-11.6" font-size="18.6">-2</tspan><tspan dy="11.6" font-size="23.2"> s</tspan><tspan dy="-11.6" font-size="18.6">-1</tspan><tspan dy="11.6" font-size="23.2">)</tspan></text></g>
</svg>
</body></html>
